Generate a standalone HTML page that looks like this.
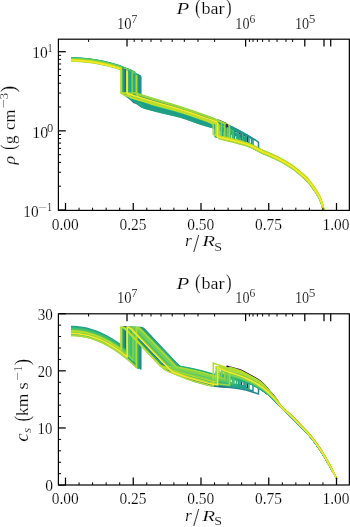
<!DOCTYPE html>
<html><head><meta charset="utf-8"><style>
html,body{margin:0;padding:0;background:#fff;width:350px;height:527px;overflow:hidden}
svg{display:block;will-change:transform}
</style></head><body>
<svg xmlns="http://www.w3.org/2000/svg" width="350" height="527" viewBox="0 0 350 527">
<defs>
<clipPath id="c1"><rect x="58.4" y="39.2" width="290.95" height="171.20"/></clipPath>
<clipPath id="c2"><rect x="58.4" y="313.8" width="290.95" height="171.20"/></clipPath>
</defs>
<g fill="none" stroke-width="1.5" stroke-linejoin="round" stroke-linecap="butt">
<path d="M71.00 59.50L77.00 59.62L80.00 59.78L84.00 60.07L87.00 60.37L91.00 60.86L95.00 61.46L98.00 61.98L104.00 63.20L111.00 64.94L118.00 67.01L124.60 69.27" stroke="#440154" clip-path="url(#c1)"/>
<path d="M71.00 59.34L77.00 59.46L80.00 59.61L84.00 59.91L87.00 60.21L91.00 60.70L95.00 61.29L98.00 61.81L104.00 63.04L111.00 64.78L118.00 66.85L124.30 68.99" stroke="#471365" clip-path="url(#c1)"/>
<path d="M71.00 59.50L77.00 59.62L80.00 59.78L84.00 60.07L87.00 60.37L91.00 60.86L95.00 61.46L98.00 61.98L104.00 63.20L111.00 64.94L118.00 67.01L124.80 69.34" stroke="#482475" clip-path="url(#c1)"/>
<path d="M71.00 59.50L77.00 59.62L80.00 59.78L84.00 60.07L87.00 60.37L91.00 60.86L95.00 61.46L98.00 61.98L105.00 63.43L112.00 65.22L119.00 67.33L125.50 69.60" stroke="#355f8d" clip-path="url(#c1)"/>
<path d="M71.00 59.66L75.00 59.72L80.00 59.94L84.00 60.24L89.00 60.77L94.00 61.46L98.00 62.14L102.00 62.93L106.00 63.83L110.00 64.84L114.00 65.95L119.00 67.50L123.00 68.86L127.00 70.33L132.00 72.32L136.00 74.03L140.80 76.23" stroke="#25848e" clip-path="url(#c1)"/>
<path d="M71.00 59.83L75.00 59.88L79.00 60.05L84.00 60.40L88.00 60.81L92.00 61.33L96.00 61.95L100.00 62.69L105.00 63.76L109.00 64.74L113.00 65.83L117.00 67.02L122.00 68.67L127.00 70.49L131.00 72.07L135.00 73.76L139.60 75.83" stroke="#21918c" clip-path="url(#c1)"/>
<path d="M71.00 59.90L75.00 59.95L79.00 60.11L84.00 60.47L88.00 60.88L92.00 61.40L96.00 62.02L100.00 62.76L105.00 63.83L109.00 64.81L113.00 65.89L117.00 67.09L122.00 68.74L126.00 70.18L130.00 71.73L134.00 73.39L138.40 75.34" stroke="#1f958b" clip-path="url(#c1)"/>
<path d="M71.00 60.00L75.00 60.05L79.00 60.21L83.00 60.48L87.00 60.87L91.00 61.36L95.00 61.95L99.00 62.66L104.00 63.70L108.00 64.65L112.00 65.71L116.00 66.88L120.00 68.16L124.00 69.55L128.00 71.04L132.00 72.65L136.00 74.36" stroke="#1f9a8a" clip-path="url(#c1)"/>
<path d="M71.00 57.85L77.00 57.97L80.00 58.13L84.00 58.42L87.00 58.72L91.00 59.21L97.00 60.15L100.00 60.71L104.00 61.55L110.00 63.02L117.00 65.04L123.00 67.04" stroke="#1e9c89" clip-path="url(#c1)"/>
<path d="M71.00 59.83L75.00 59.88L79.00 60.05L83.00 60.32L87.00 60.70L91.00 61.19L95.00 61.79L99.00 62.50L103.00 63.31L107.00 64.24L111.00 65.27L115.00 66.41L119.00 67.66L123.00 69.02L127.00 70.49L134.00 73.32" stroke="#1f9f88" clip-path="url(#c1)"/>
<path d="M71.00 59.76L77.00 59.89L80.00 60.04L84.00 60.34L87.00 60.63L91.00 61.12L95.00 61.72L98.00 62.24L104.00 63.47L111.00 65.20L117.00 66.96L124.00 69.31" stroke="#1fa188" clip-path="url(#c1)"/>
<path d="M71.00 60.00L75.00 60.05L79.00 60.21L83.00 60.48L87.00 60.87L91.00 61.36L95.00 61.95L99.00 62.66L104.00 63.70L109.00 64.90L113.00 65.99L117.00 67.19L121.00 68.49L125.00 69.91L129.00 71.43L133.00 73.06L137.50 75.03" stroke="#20a386" clip-path="url(#c1)"/>
<path d="M71.00 59.66L75.00 59.72L79.00 59.88L82.00 60.08L86.00 60.43L89.00 60.77L93.00 61.31L96.00 61.79L100.00 62.52L107.00 64.07L111.00 65.11L115.00 66.25L122.00 68.51L129.00 71.10" stroke="#22a884" clip-path="url(#c1)"/>
<path d="M71.00 59.83L75.00 59.88L79.00 60.05L82.00 60.24L86.00 60.59L90.00 61.06L94.00 61.63L98.00 62.31L101.00 62.89L105.00 63.76L109.00 64.74L116.00 66.72L123.00 69.02L127.00 70.49L130.30 71.79" stroke="#26ad81" clip-path="url(#c1)"/>
<path d="M71.00 59.66L77.00 59.79L80.00 59.94L84.00 60.24L87.00 60.54L91.00 61.02L97.00 61.96L100.00 62.52L104.00 63.37L110.00 64.84L116.00 66.55L122.20 68.58" stroke="#26ad81" clip-path="url(#c1)"/>
<path d="M71.00 58.11L75.00 58.17L79.00 58.33L82.00 58.53L86.00 58.88L90.00 59.34L94.00 59.91L98.00 60.59L101.00 61.17L105.00 62.04L109.00 63.02L116.00 65.00L120.00 66.28L124.00 67.66L128.00 69.16L131.50 70.56" stroke="#2fb47c" clip-path="url(#c1)"/>
<path d="M71.00 58.44L75.00 58.50L79.00 58.66L82.00 58.86L86.00 59.21L90.00 59.67L94.00 60.24L98.00 60.92L101.00 61.50L105.00 62.37L109.00 63.35L116.00 65.33L123.00 67.64L127.00 69.11L130.90 70.64" stroke="#1e9c89" clip-path="url(#c1)"/>
<path d="M71.00 58.25L75.00 58.30L79.00 58.46L83.00 58.74L87.00 59.12L91.00 59.61L95.00 60.20L99.00 60.91L103.00 61.73L107.00 62.65L111.00 63.69L115.00 64.83L119.00 66.08L123.00 67.44L127.00 68.91L131.00 70.49L134.50 71.96" stroke="#3bbb75" clip-path="url(#c1)"/>
<path d="M71.00 58.38L75.00 58.43L79.00 58.60L83.00 58.87L87.00 59.25L91.00 59.74L95.00 60.34L99.00 61.04L103.00 61.86L107.00 62.78L111.00 63.82L115.00 64.96L119.00 66.21L123.00 67.57L127.00 69.04L131.00 70.62L135.00 72.30" stroke="#44bf70" clip-path="url(#c1)"/>
<path d="M71.00 58.58L75.00 58.63L79.00 58.79L82.00 58.99L86.00 59.34L89.00 59.68L93.00 60.22L96.00 60.70L100.00 61.44L107.00 62.98L114.00 64.86L121.00 67.08L125.00 68.49L128.20 69.70" stroke="#1fa188" clip-path="url(#c1)"/>
<path d="M71.00 58.64L75.00 58.70L79.00 58.86L83.00 59.13L87.00 59.51L91.00 60.00L95.00 60.60L99.00 61.31L102.00 61.91L109.00 63.55L113.00 64.64L117.00 65.84L121.00 67.14L125.00 68.56L132.10 71.33" stroke="#7ad151" clip-path="url(#c1)"/>
<path d="M71.00 58.51L75.00 58.56L79.00 58.73L83.00 59.00L87.00 59.38L91.00 59.87L95.00 60.47L99.00 61.18L103.00 61.99L107.00 62.92L111.00 63.95L115.00 65.09L119.00 66.34L123.00 67.70L127.00 69.17L131.00 70.75L134.20 72.09" stroke="#4ec36b" clip-path="url(#c1)"/>
<path d="M71.00 58.77L75.00 58.83L79.00 58.99L82.00 59.19L86.00 59.54L89.00 59.88L93.00 60.42L96.00 60.90L100.00 61.63L107.00 63.18L111.00 64.21L115.00 65.36L122.00 67.62L126.00 69.06L129.70 70.49" stroke="#22a884" clip-path="url(#c1)"/>
<path d="M71.00 58.68L75.00 58.73L79.00 58.89L83.00 59.16L87.00 59.55L91.00 60.04L95.00 60.63L99.00 61.34L102.00 61.94L109.00 63.58L113.00 64.67L117.00 65.87L121.00 67.17L125.00 68.59L129.00 70.11L132.80 71.66" stroke="#5ec962" clip-path="url(#c1)"/>
<path d="M71.00 58.91L75.00 58.96L79.00 59.12L83.00 59.40L87.00 59.78L91.00 60.27L95.00 60.86L99.00 61.57L103.00 62.39L107.00 63.31L111.00 64.35L115.00 65.49L119.00 66.74L123.00 68.10L127.00 69.57L131.00 71.15L135.60 73.09" stroke="#69cd5b" clip-path="url(#c1)"/>
<path d="M71.00 58.84L75.00 58.89L79.00 59.06L83.00 59.33L87.00 59.71L91.00 60.20L95.00 60.80L99.00 61.51L102.00 62.11L106.00 63.01L110.00 64.01L114.00 65.13L118.00 66.35L122.00 67.68L126.00 69.12L130.00 70.68L133.40 72.08" stroke="#6ece58" clip-path="url(#c1)"/>
<path d="M71.00 59.01L75.00 59.06L79.00 59.22L83.00 59.49L87.00 59.88L91.00 60.37L95.00 60.96L99.00 61.67L102.00 62.27L109.00 63.91L113.00 65.00L117.00 66.20L121.00 67.50L125.00 68.92L129.00 70.44L133.00 72.07" stroke="#7ad151" clip-path="url(#c1)"/>
<path d="M71.00 59.50L74.00 59.53L78.00 59.67L82.00 59.91L85.00 60.17L88.00 60.48L92.00 61.00L95.00 61.46L99.00 62.17L106.00 63.66L113.00 65.50L120.00 67.66L124.00 69.05L127.50 70.35" stroke="#86d549" clip-path="url(#c1)"/>
<path d="M71.00 60.82L75.00 60.87L79.00 61.04L83.00 61.31L87.00 61.69L91.00 62.18L95.00 62.78L99.00 63.49L104.00 64.52L108.00 65.47L112.00 66.54L116.00 67.70L120.00 68.98L124.00 70.37L128.00 71.87L132.00 73.47L136.20 75.27" stroke="#8ed645" clip-path="url(#c1)"/>
<path d="M71.00 61.15L77.00 61.27L80.00 61.43L84.00 61.72L90.00 62.38L96.00 63.27L102.00 64.42L109.00 66.06L115.00 67.73L121.00 69.65" stroke="#9bd93c" clip-path="url(#c1)"/>
<path d="M71.00 60.66L75.00 60.71L79.00 60.87L83.00 61.14L87.00 61.53L91.00 62.02L95.00 62.61L99.00 63.32L104.00 64.36L108.00 65.31L112.00 66.37L116.00 67.54L120.00 68.82L124.00 70.21L128.00 71.70L132.00 73.31L136.70 75.33" stroke="#a8db34" clip-path="url(#c1)"/>
<path d="M71.00 60.98L77.00 61.11L80.00 61.26L84.00 61.56L90.00 62.21L96.00 63.11L99.00 63.65L103.00 64.47L109.00 65.89L115.00 67.57L121.50 69.66" stroke="#b0dd2f" clip-path="url(#c1)"/>
<path d="M71.00 59.83L77.00 59.95L80.00 60.11L84.00 60.40L90.00 61.06L96.00 61.95L99.00 62.50L103.00 63.31L109.00 64.74L115.00 66.41L121.30 68.43" stroke="#bddf26" clip-path="url(#c1)"/>
<path d="M71.00 60.00L74.00 60.03L78.00 60.16L82.00 60.41L85.00 60.66L88.00 60.98L92.00 61.49L95.00 61.95L99.00 62.66L106.00 64.16L113.00 65.99L120.00 68.16L127.00 70.66" stroke="#c2df23" clip-path="url(#c1)"/>
<path d="M71.00 60.49L74.00 60.52L78.00 60.66L82.00 60.90L85.00 61.16L88.00 61.47L92.00 61.99L95.00 62.45L99.00 63.16L106.00 64.66L113.00 66.49L120.00 68.65L124.00 70.04L127.20 71.23" stroke="#fde725" clip-path="url(#c1)"/>
<path d="M124.60 69.27L124.60 93.36L127.00 95.16L128.00 95.65L146.00 101.11L160.00 105.15L175.00 109.32L181.00 111.11L188.00 113.39L203.00 118.57L212.00 121.56L213.00 121.77L214.00 121.74L215.00 121.53L218.00 120.56L219.00 120.33L227.00 123.90" stroke="#440154" clip-path="url(#c1)"/>
<path d="M124.30 68.99L124.30 93.33L125.00 93.86L126.00 94.37L144.00 99.91L158.00 104.01L175.00 108.81L181.00 110.61L189.00 113.23L212.00 121.09L217.00 122.96L222.00 124.92L227.00 126.99L231.00 128.73L235.00 130.55L239.00 132.46L243.00 134.47L247.50 136.85" stroke="#471365" clip-path="url(#c1)"/>
<path d="M124.80 69.34L124.80 93.38L127.00 95.03L128.00 95.65L139.00 99.02L150.00 102.28L160.00 105.15L178.00 110.20L183.00 111.74L188.00 113.39L203.00 118.57L212.00 121.56L219.00 124.16L225.00 126.55L231.00 129.10L236.00 131.36L241.50 134.01" stroke="#482475" clip-path="url(#c1)"/>
<path d="M125.50 69.60L125.50 93.45L133.00 101.70L134.00 102.57L147.00 106.21L157.00 108.93L163.00 110.48L174.00 113.18L180.00 114.80L183.00 115.71L187.00 117.03L198.00 120.94L203.00 122.64L206.00 123.58L212.00 125.33L215.60 126.49" stroke="#355f8d" clip-path="url(#c1)"/>
<path d="M137.50 75.03L137.50 94.65L146.00 104.00L147.00 105.01L161.00 108.84L177.00 112.95L181.00 114.10L185.00 115.36L201.00 120.95L205.00 122.27L213.00 124.71L222.00 127.87L228.00 130.15L235.00 133.01L240.00 135.18L246.00 137.95" stroke="#20a386" clip-path="url(#c1)"/>
<path d="M150.00 99.90L173.00 106.67L182.00 109.43L194.00 113.42L212.00 119.68L221.00 123.24L226.00 125.36L230.00 127.15L234.00 129.01L238.00 130.97L242.00 133.04L246.20 135.33" stroke="#20a386" clip-path="url(#c1)"/>
<path d="M129.00 71.10L129.00 93.80L137.00 102.60L138.00 103.08L152.00 106.99L161.00 109.41L176.00 113.19L180.00 114.30L183.00 115.21L188.00 116.88L202.00 121.80L206.00 123.08L212.00 124.86L219.00 127.21L224.00 129.02L229.00 130.93L234.00 132.94L238.70 134.93" stroke="#22a884" clip-path="url(#c1)"/>
<path d="M150.00 103.47L161.00 106.57L175.00 110.35L182.00 112.42L188.00 114.39L203.00 119.59L212.00 122.50L217.00 124.29L222.30 126.30" stroke="#22a884" clip-path="url(#c1)"/>
<path d="M130.30 71.79L130.30 93.93L140.00 104.60L141.00 105.16L152.00 108.17L162.00 110.80L176.00 114.21L180.00 115.30L183.00 116.20L188.00 117.87L202.00 122.82L206.00 124.09L213.00 126.11L222.00 129.13L227.00 130.95L233.00 133.26L238.00 135.29L243.00 137.43" stroke="#26ad81" clip-path="url(#c1)"/>
<path d="M122.20 68.58L122.20 93.12L132.00 100.47L133.00 101.01L150.00 105.85L161.00 108.84L175.00 112.41L182.00 114.40L188.00 116.38L202.00 121.29L206.00 122.58L212.00 124.39L215.00 125.38L220.00 127.14L225.00 128.99" stroke="#26ad81" clip-path="url(#c1)"/>
<path d="M150.00 101.09L174.00 108.00L181.00 110.11L189.00 112.73L210.00 119.92L217.00 122.51L224.00 125.32L231.00 128.35L237.80 131.54" stroke="#26ad81" clip-path="url(#c1)"/>
<path d="M131.50 70.56L131.50 94.05L144.00 107.80L145.00 108.32L156.00 111.21L163.00 112.95L175.00 115.70L179.00 116.73L182.00 117.58L187.00 119.22L198.00 123.19L202.00 124.56L206.00 125.79L213.00 127.69L221.00 130.22L229.00 133.02L236.70 135.91" stroke="#2fb47c" clip-path="url(#c1)"/>
<path d="M150.00 102.87L161.00 106.00L175.00 109.84L183.00 112.24L189.00 114.23L203.00 119.08L212.00 122.03L219.00 124.60L225.20 127.04" stroke="#2fb47c" clip-path="url(#c1)"/>
<path d="M150.00 104.66L161.00 107.70L175.00 111.38L181.00 113.10L188.00 115.38L203.00 120.60L211.00 123.12L215.00 124.47" stroke="#32b67a" clip-path="url(#c1)"/>
<path d="M130.90 70.64L130.90 93.99L138.00 101.80L145.00 103.84L155.00 106.64L162.00 108.54L175.00 111.90L179.00 113.01L183.00 114.22L188.00 115.88L202.00 120.78L206.00 122.08L212.00 123.92L217.00 125.63L225.00 128.59L233.00 131.81" stroke="#1e9c89" clip-path="url(#c1)"/>
<path d="M134.50 71.96L134.50 94.35L141.00 101.47L159.00 106.59L176.00 111.14L183.00 113.23L189.00 115.23L202.00 119.76L211.00 122.65L215.00 124.02L224.00 127.38L232.50 130.87" stroke="#3bbb75" clip-path="url(#c1)"/>
<path d="M150.00 100.50L173.00 107.19L181.00 109.61L191.00 112.91L211.00 119.79L219.00 122.86L227.00 126.20L235.00 129.84L242.20 133.45" stroke="#3bbb75" clip-path="url(#c1)"/>
<path d="M135.00 72.30L135.00 94.40L140.00 99.90L141.00 100.85L158.00 105.74L176.00 110.63L183.00 112.73L189.00 114.73L203.00 119.59L213.00 122.85L220.00 125.41L226.00 127.77" stroke="#44bf70" clip-path="url(#c1)"/>
<path d="M128.20 69.70L128.20 93.72L134.00 100.03L154.00 105.78L162.00 107.97L175.00 111.38L182.00 113.41L188.00 115.38L203.00 120.60L211.00 123.12L214.00 124.12L221.00 126.65L228.00 129.37" stroke="#1fa188" clip-path="url(#c1)"/>
<path d="M150.00 102.28L160.00 105.15L176.00 109.61L181.00 111.11L186.00 112.72L203.00 118.57L213.00 121.92L222.00 125.34L230.50 128.88" stroke="#44bf70" clip-path="url(#c1)"/>
<path d="M132.10 71.33L132.10 94.11L135.00 97.30L136.00 98.11L154.00 103.44L176.00 109.61L181.00 111.11L185.00 112.39L203.00 118.57L211.00 121.22L215.00 122.65L220.00 124.55L225.00 126.55L230.00 128.67L234.00 130.44" stroke="#7ad151" clip-path="url(#c1)"/>
<path d="M134.20 72.09L134.20 94.32L139.00 99.60L143.00 100.83L153.00 103.74L161.00 106.00L175.00 109.84L182.00 111.92L189.00 114.23L203.00 119.08L212.00 122.03L220.00 124.98" stroke="#4ec36b" clip-path="url(#c1)"/>
<path d="M129.70 70.49L129.70 93.87L135.00 99.70L153.00 104.91L161.00 107.14L175.00 110.87L179.00 112.00L183.00 113.23L189.00 115.23L202.00 119.76L214.00 123.66L222.00 126.60L230.00 129.81" stroke="#22a884" clip-path="url(#c1)"/>
<path d="M132.80 71.66L132.80 94.18L135.00 96.54L152.00 101.68L176.00 108.59L185.00 111.40L212.00 120.62L221.00 124.09L229.00 127.46" stroke="#5ec962" clip-path="url(#c1)"/>
<path d="M150.00 104.06L161.00 107.14L175.00 110.87L182.00 112.91L188.00 114.88L203.00 120.09L212.00 122.97L218.50 125.29" stroke="#5ec962" clip-path="url(#c1)"/>
<path d="M135.60 73.09L135.60 94.46L140.00 99.30L141.00 100.23L158.00 105.16L176.00 110.12L183.00 112.24L189.00 114.23L203.00 119.08L212.00 122.03L219.00 124.60L225.00 126.96" stroke="#69cd5b" clip-path="url(#c1)"/>
<path d="M133.40 72.08L133.40 94.24L136.00 97.10L137.00 97.79L154.00 102.85L176.00 109.10L184.00 111.57L212.00 121.09L220.00 124.12L227.50 127.20" stroke="#6ece58" clip-path="url(#c1)"/>
<path d="M133.00 72.07L133.00 94.20L134.00 94.20L135.00 94.40L148.00 98.46L173.00 105.93L183.00 109.06L195.00 113.05L209.00 117.92L214.00 119.80L221.50 122.86" stroke="#7ad151" clip-path="url(#c1)"/>
<path d="M140.80 76.23L140.80 94.98L141.00 95.19L151.00 98.31L173.00 104.99L183.00 108.17L192.00 111.13L200.00 113.85L208.00 116.68L213.00 118.57L220.00 121.45L226.00 124.08L232.00 126.89L237.00 129.39L242.00 132.07L247.00 134.93L253.00 138.58L258.50 142.12" stroke="#25848e" clip-path="url(#c1)"/>
<path d="M139.60 75.83L139.60 94.86L141.00 96.40L142.00 96.86L147.00 98.40L173.00 106.14L182.00 108.94L196.00 113.60L208.00 117.76L212.00 119.21L218.00 121.58L224.00 124.09L229.00 126.31L234.00 128.66L238.00 130.64L243.00 133.28L248.00 136.09L253.00 139.06" stroke="#21918c" clip-path="url(#c1)"/>
<path d="M138.40 75.34L138.40 94.74L141.00 97.60L142.00 98.08L147.00 99.60L158.00 102.86L174.00 107.48L182.00 109.93L192.00 113.25L212.00 120.15L217.00 122.07L222.00 124.08L227.00 126.20L232.00 128.44L236.00 130.32L240.00 132.31L244.00 134.41L249.00 137.17" stroke="#1f958b" clip-path="url(#c1)"/>
<path d="M150.00 98.95L173.00 105.83L182.00 108.64L197.00 113.64L207.00 117.11L212.00 118.93L218.00 121.32L223.00 123.41L228.00 125.62L233.00 127.96L238.00 130.44L242.00 132.56L247.00 135.36L251.50 138.01" stroke="#1f958b" clip-path="url(#c1)"/>
<path d="M136.00 74.36L136.00 94.50L146.00 105.50L147.00 106.21L161.00 109.98L176.00 113.70L180.00 114.80L184.00 116.03L188.00 117.38L202.00 122.31L206.00 123.58L213.00 125.64L222.00 128.71L228.00 130.94L234.00 133.30L240.00 135.81L245.00 138.04" stroke="#1f9a8a" clip-path="url(#c1)"/>
<path d="M123.00 67.04L123.00 93.20L141.00 106.70L142.00 107.27L153.00 110.20L162.00 112.49L176.00 115.75L180.00 116.80L183.00 117.69L188.00 119.37L198.00 122.98L202.00 124.36L206.00 125.59L213.00 127.50L218.00 129.06L223.00 130.73L228.00 132.50L234.00 134.73L239.00 136.68L244.00 138.74" stroke="#1e9c89" clip-path="url(#c1)"/>
<path d="M150.00 101.69L177.00 109.39L183.00 111.24L189.00 113.23L203.00 118.06L211.00 120.74L215.00 122.20L220.00 124.12L225.00 126.15L230.00 128.29L234.30 130.22" stroke="#1e9c89" clip-path="url(#c1)"/>
<path d="M134.00 73.32L134.00 94.30L145.00 106.40L146.00 107.14L161.00 111.11L176.00 114.72L180.00 115.80L183.00 116.70L188.00 118.37L198.00 121.96L202.00 123.33L206.00 124.59L213.00 126.57L221.00 129.20L230.00 132.47L235.00 134.41L240.00 136.45" stroke="#1f9f88" clip-path="url(#c1)"/>
<path d="M124.00 69.31L124.00 93.30L141.00 106.05L142.00 106.66L154.00 109.88L162.00 111.93L175.00 114.98L181.00 116.59L187.00 118.52L198.00 122.47L202.00 123.85L206.00 125.09L213.00 127.03L218.00 128.62L223.00 130.32" stroke="#1fa188" clip-path="url(#c1)"/>
<path d="M127.50 70.35L127.50 93.65L130.00 96.40L131.00 97.22L142.00 100.53L152.00 103.45L161.00 106.00L174.00 109.56L181.00 111.61L187.00 113.55L203.00 119.08L211.00 121.69L216.50 123.66" stroke="#86d549" clip-path="url(#c1)"/>
<path d="M136.20 75.27L136.20 94.52L137.00 94.52L138.00 94.73L150.00 98.48L175.00 106.03L188.00 110.20L199.00 113.91L210.00 117.80L217.00 120.55L224.50 123.73" stroke="#8ed645" clip-path="url(#c1)"/>
<path d="M121.00 69.65L121.00 93.00L135.00 93.00L136.00 93.08L148.00 96.91L177.00 105.84L190.00 110.06L200.00 113.44L208.00 116.28L213.00 118.20L222.00 121.97L229.50 125.39" stroke="#9bd93c" clip-path="url(#c1)"/>
<path d="M136.70 75.33L136.70 94.57L141.00 99.30L142.00 99.92L158.00 104.58L175.00 109.32L182.00 111.42L188.00 113.39L203.00 118.57L211.00 121.22L219.00 124.16" stroke="#a8db34" clip-path="url(#c1)"/>
<path d="M121.50 69.66L121.50 93.05L124.00 93.08L136.00 96.85L147.00 100.20L157.00 103.14L178.00 109.19L184.00 111.07L191.00 113.41L196.00 115.15L199.00 116.46L202.00 118.01L210.00 122.57L213.20 124.31" stroke="#b0dd2f" clip-path="url(#c1)"/>
<path d="M121.30 68.43L121.30 93.03L124.00 95.06L137.00 99.04L149.00 102.58L161.00 106.00L175.00 109.84L181.00 111.61L188.00 113.89L202.00 118.74L212.00 122.03L216.00 123.48" stroke="#bddf26" clip-path="url(#c1)"/>
<path d="M127.00 70.66L127.00 93.60L130.00 96.90L131.00 97.86L142.00 101.14L152.00 104.04L161.00 106.57L175.00 110.35L181.00 112.10L188.00 114.39L203.00 119.59L212.00 122.50L217.00 124.29" stroke="#c2df23" clip-path="url(#c1)"/>
<path d="M127.20 71.23L127.20 93.62L128.00 93.70L138.00 96.85L147.00 99.60L158.00 102.86L174.00 107.48L181.00 109.61L190.00 112.57L209.00 119.09L213.00 120.53L217.60 122.30" stroke="#fde725" clip-path="url(#c1)"/>
<path d="M227.00 123.90L227.00 139.75L234.00 141.41L242.00 143.55L246.00 144.74L250.00 146.14L252.00 147.04L256.00 149.14L263.00 152.67L266.00 154.02L272.00 156.49L277.00 158.84L281.00 160.90L286.00 163.69L290.00 166.13L293.00 168.14L295.00 169.62L298.00 172.06L303.00 176.29L305.00 178.14L307.00 180.19L309.00 182.44L311.00 184.91L312.00 186.25L314.00 189.13L317.00 193.69L318.00 195.32L319.00 197.11L320.00 199.14L321.00 201.64L322.00 204.64L323.00 208.09L324.00 212.14L325.00 217.14" stroke="#440154" clip-path="url(#c1)"/>
<path d="M247.50 136.85L247.50 145.23L250.00 146.14L252.00 147.04L260.00 151.18L264.00 153.14L272.00 156.49L275.00 157.87L280.00 160.37L286.00 163.69L291.00 166.78L293.00 168.14L295.00 169.62L297.00 171.23L302.00 175.42L304.00 177.19L306.00 179.14L309.00 182.44L311.00 184.91L312.00 186.25L314.00 189.13L317.00 193.69L318.00 195.32L319.00 197.11L320.00 199.14L321.00 201.64L322.00 204.64L323.00 208.09L324.00 212.14L325.00 217.14" stroke="#471365" clip-path="url(#c1)"/>
<path d="M241.50 134.01L241.50 143.58L247.00 145.22L249.00 145.92L251.00 146.72L263.00 152.83L266.00 154.18L273.00 157.10L278.00 159.50L282.00 161.60L286.00 163.85L289.00 165.66L292.00 167.61L294.00 169.02L297.00 171.39L301.00 174.74L303.00 176.45L305.00 178.30L307.00 180.35L309.00 182.60L311.00 185.07L312.00 186.41L314.00 189.29L317.00 193.85L318.00 195.48L319.00 197.27L320.00 199.30L321.00 201.80L322.00 204.80L323.00 208.25L324.00 212.30L325.00 217.30" stroke="#482475" clip-path="url(#c1)"/>
<path d="M215.60 126.49L215.60 136.73L220.00 137.82L231.00 140.35L235.00 141.35L244.00 143.81L247.00 144.74L250.00 145.82L252.00 146.72L256.00 148.82L263.00 152.35L266.00 153.70L273.00 156.62L277.00 158.52L281.00 160.58L286.00 163.37L290.00 165.81L294.00 168.54L297.00 170.91L302.00 175.10L304.00 176.87L306.00 178.82L308.00 180.97L310.00 183.32L312.00 185.93L314.00 188.81L317.00 193.37L318.00 195.00L319.00 196.79L320.00 198.82L321.00 201.32L322.00 204.32L323.00 207.77L324.00 211.82L325.00 216.82" stroke="#355f8d" clip-path="url(#c1)"/>
<path d="M246.00 137.95L246.00 145.06L249.00 146.08L251.00 146.88L263.00 152.99L266.00 154.34L272.00 156.81L276.00 158.67L280.00 160.69L285.00 163.44L288.00 165.20L291.00 167.10L293.00 168.46L295.00 169.94L297.00 171.55L302.00 175.74L304.00 177.51L306.00 179.46L309.00 182.76L311.00 185.23L312.00 186.57L314.00 189.45L317.00 194.01L318.00 195.64L319.00 197.43L320.00 199.46L321.00 201.96L322.00 204.96L323.00 208.41L324.00 212.46L325.00 217.46" stroke="#20a386" clip-path="url(#c1)"/>
<path d="M246.20 135.33L246.20 144.48L249.00 145.44L251.00 146.24L263.00 152.35L266.00 153.70L272.00 156.17L275.00 157.55L280.00 160.05L285.00 162.80L288.00 164.56L291.00 166.46L293.00 167.82L295.00 169.30L297.00 170.91L302.00 175.10L304.00 176.87L306.00 178.82L309.00 182.12L311.00 184.59L312.00 185.93L314.00 188.81L317.00 193.37L318.00 195.00L319.00 196.79L320.00 198.82L321.00 201.32L322.00 204.32L323.00 207.77L324.00 211.82L325.00 216.82" stroke="#20a386" clip-path="url(#c1)"/>
<path d="M238.70 134.93L238.70 142.98L243.00 144.16L246.00 145.06L249.00 146.08L251.00 146.88L263.00 152.99L266.00 154.34L273.00 157.26L277.00 159.16L281.00 161.22L285.00 163.44L288.00 165.20L291.00 167.10L293.00 168.46L295.00 169.94L298.00 172.38L303.00 176.61L305.00 178.46L307.00 180.51L309.00 182.76L311.00 185.23L312.00 186.57L314.00 189.45L317.00 194.01L318.00 195.64L319.00 197.43L320.00 199.46L321.00 201.96L322.00 204.96L323.00 208.41L324.00 212.46L325.00 217.46" stroke="#22a884" clip-path="url(#c1)"/>
<path d="M222.30 126.30L222.30 138.36L232.00 140.59L241.00 142.96L244.00 143.81L247.00 144.74L249.00 145.44L251.00 146.24L263.00 152.35L266.00 153.70L272.00 156.17L276.00 158.03L280.00 160.05L285.00 162.80L290.00 165.81L294.00 168.54L297.00 170.91L303.00 175.97L305.00 177.82L307.00 179.87L309.00 182.12L311.00 184.59L313.00 187.34L316.00 191.84L318.00 195.00L319.00 196.79L320.00 198.82L321.00 201.32L322.00 204.32L323.00 207.77L324.00 211.82L325.00 216.82" stroke="#22a884" clip-path="url(#c1)"/>
<path d="M243.00 137.43L243.00 144.16L247.00 145.38L249.00 146.08L251.00 146.88L263.00 152.99L265.00 153.91L271.00 156.39L274.00 157.72L279.00 160.17L283.00 162.31L286.00 164.01L289.00 165.82L292.00 167.77L294.00 169.18L297.00 171.55L301.00 174.90L303.00 176.61L305.00 178.46L307.00 180.51L309.00 182.76L311.00 185.23L312.00 186.57L314.00 189.45L317.00 194.01L318.00 195.64L319.00 197.43L320.00 199.46L321.00 201.96L322.00 204.96L323.00 208.41L324.00 212.46L325.00 217.46" stroke="#26ad81" clip-path="url(#c1)"/>
<path d="M225.00 128.99L225.00 138.97L233.00 140.84L240.00 142.69L245.00 144.11L249.00 145.44L251.00 146.24L252.00 146.72L260.00 150.86L264.00 152.82L272.00 156.17L275.00 157.55L279.00 159.53L283.00 161.67L287.00 163.96L291.00 166.46L294.00 168.54L296.00 170.09L303.00 175.97L305.00 177.82L307.00 179.87L309.00 182.12L311.00 184.59L313.00 187.34L316.00 191.84L318.00 195.00L319.00 196.79L320.00 198.82L321.00 201.32L322.00 204.32L323.00 207.77L324.00 211.82L325.00 216.82" stroke="#26ad81" clip-path="url(#c1)"/>
<path d="M237.80 131.54L237.80 142.10L243.00 143.52L246.00 144.42L249.00 145.44L251.00 146.24L263.00 152.35L266.00 153.70L273.00 156.62L277.00 158.52L281.00 160.58L285.00 162.80L288.00 164.56L291.00 166.46L293.00 167.82L295.00 169.30L298.00 171.74L303.00 175.97L305.00 177.82L307.00 179.87L309.00 182.12L311.00 184.59L312.00 185.93L314.00 188.81L317.00 193.37L318.00 195.00L319.00 196.79L320.00 198.82L321.00 201.32L322.00 204.32L323.00 207.77L324.00 211.82L325.00 216.82" stroke="#26ad81" clip-path="url(#c1)"/>
<path d="M236.70 135.91L236.70 142.13L245.00 144.43L248.00 145.40L250.00 146.14L252.00 147.04L256.00 149.14L263.00 152.67L266.00 154.02L273.00 156.94L277.00 158.84L280.00 160.37L284.00 162.55L287.00 164.28L290.00 166.13L293.00 168.14L295.00 169.62L297.00 171.23L302.00 175.42L304.00 177.19L306.00 179.14L308.00 181.29L311.00 184.91L313.00 187.66L316.00 192.16L318.00 195.32L319.00 197.11L320.00 199.14L321.00 201.64L322.00 204.64L323.00 208.09L324.00 212.14L325.00 217.14" stroke="#2fb47c" clip-path="url(#c1)"/>
<path d="M225.20 127.04L225.20 139.02L233.00 140.84L240.00 142.69L245.00 144.11L249.00 145.44L251.00 146.24L252.00 146.72L260.00 150.86L264.00 152.82L272.00 156.17L275.00 157.55L279.00 159.53L283.00 161.67L287.00 163.96L291.00 166.46L294.00 168.54L296.00 170.09L303.00 175.97L305.00 177.82L307.00 179.87L309.00 182.12L311.00 184.59L313.00 187.34L316.00 191.84L318.00 195.00L319.00 196.79L320.00 198.82L321.00 201.32L322.00 204.32L323.00 207.77L324.00 211.82L325.00 216.82" stroke="#2fb47c" clip-path="url(#c1)"/>
<path d="M215.00 124.47L215.00 136.57L220.00 137.82L232.00 140.59L240.00 142.69L246.00 144.42L249.00 145.44L251.00 146.24L263.00 152.35L266.00 153.70L273.00 156.62L278.00 159.02L282.00 161.12L287.00 163.96L291.00 166.46L294.00 168.54L298.00 171.74L302.00 175.10L304.00 176.87L307.00 179.87L309.00 182.12L311.00 184.59L313.00 187.34L316.00 191.84L318.00 195.00L319.00 196.79L320.00 198.82L321.00 201.32L322.00 204.32L323.00 207.77L324.00 211.82L325.00 216.82" stroke="#32b67a" clip-path="url(#c1)"/>
<path d="M233.00 131.81L233.00 140.84L244.00 143.81L247.00 144.74L250.00 145.82L252.00 146.72L256.00 148.82L263.00 152.35L266.00 153.70L272.00 156.17L278.00 159.02L282.00 161.12L286.00 163.37L289.00 165.18L292.00 167.13L294.00 168.54L296.00 170.09L302.00 175.10L304.00 176.87L306.00 178.82L308.00 180.97L311.00 184.59L313.00 187.34L316.00 191.84L318.00 195.00L319.00 196.79L320.00 198.82L321.00 201.32L322.00 204.32L323.00 207.77L324.00 211.82L325.00 216.82" stroke="#1e9c89" clip-path="url(#c1)"/>
<path d="M232.50 130.87L232.50 140.72L240.00 142.69L244.00 143.81L247.00 144.74L250.00 145.82L252.00 146.72L256.00 148.82L263.00 152.35L266.00 153.70L272.00 156.17L278.00 159.02L282.00 161.12L286.00 163.37L289.00 165.18L292.00 167.13L294.00 168.54L296.00 170.09L302.00 175.10L304.00 176.87L306.00 178.82L308.00 180.97L311.00 184.59L313.00 187.34L316.00 191.84L318.00 195.00L319.00 196.79L320.00 198.82L321.00 201.32L322.00 204.32L323.00 207.77L324.00 211.82L325.00 216.82" stroke="#3bbb75" clip-path="url(#c1)"/>
<path d="M242.20 133.45L242.20 143.29L247.00 144.74L249.00 145.44L251.00 146.24L263.00 152.35L265.00 153.27L271.00 155.75L274.00 157.08L279.00 159.53L283.00 161.67L286.00 163.37L289.00 165.18L292.00 167.13L294.00 168.54L297.00 170.91L302.00 175.10L304.00 176.87L306.00 178.82L309.00 182.12L311.00 184.59L312.00 185.93L314.00 188.81L317.00 193.37L318.00 195.00L319.00 196.79L320.00 198.82L321.00 201.32L322.00 204.32L323.00 207.77L324.00 211.82L325.00 216.82" stroke="#3bbb75" clip-path="url(#c1)"/>
<path d="M226.00 127.77L226.00 138.88L233.00 140.52L241.00 142.64L245.00 143.79L249.00 145.12L251.00 145.92L252.00 146.40L260.00 150.54L264.00 152.50L272.00 155.85L275.00 157.23L279.00 159.21L283.00 161.35L287.00 163.64L291.00 166.14L294.00 168.22L296.00 169.77L303.00 175.65L305.00 177.50L307.00 179.55L309.00 181.80L311.00 184.27L313.00 187.02L316.00 191.52L318.00 194.68L319.00 196.47L320.00 198.50L321.00 201.00L322.00 204.00L323.00 207.45L324.00 211.50L325.00 216.50" stroke="#44bf70" clip-path="url(#c1)"/>
<path d="M228.00 129.37L228.00 139.33L234.00 140.77L242.00 142.91L246.00 144.10L250.00 145.50L252.00 146.40L256.00 148.50L263.00 152.03L266.00 153.38L272.00 155.85L276.00 157.71L280.00 159.73L284.00 161.91L288.00 164.24L291.00 166.14L294.00 168.22L296.00 169.77L303.00 175.65L305.00 177.50L307.00 179.55L309.00 181.80L311.00 184.27L313.00 187.02L316.00 191.52L318.00 194.68L319.00 196.47L320.00 198.50L321.00 201.00L322.00 204.00L323.00 207.45L324.00 211.50L325.00 216.50" stroke="#1fa188" clip-path="url(#c1)"/>
<path d="M230.50 128.88L230.50 140.23L235.00 141.35L243.00 143.52L247.00 144.74L250.00 145.82L252.00 146.72L256.00 148.82L263.00 152.35L266.00 153.70L272.00 156.17L277.00 158.52L281.00 160.58L285.00 162.80L289.00 165.18L292.00 167.13L294.00 168.54L296.00 170.09L302.00 175.10L304.00 176.87L306.00 178.82L308.00 180.97L311.00 184.59L313.00 187.34L316.00 191.84L318.00 195.00L319.00 196.79L320.00 198.82L321.00 201.32L322.00 204.32L323.00 207.77L324.00 211.82L325.00 216.82" stroke="#44bf70" clip-path="url(#c1)"/>
<path d="M234.00 130.44L234.00 141.09L244.00 143.81L247.00 144.74L250.00 145.82L252.00 146.72L256.00 148.82L263.00 152.35L266.00 153.70L273.00 156.62L279.00 159.53L283.00 161.67L287.00 163.96L290.00 165.81L293.00 167.82L295.00 169.30L298.00 171.74L303.00 175.97L305.00 177.82L307.00 179.87L309.00 182.12L311.00 184.59L312.00 185.93L314.00 188.81L317.00 193.37L318.00 195.00L319.00 196.79L320.00 198.82L321.00 201.32L322.00 204.32L323.00 207.77L324.00 211.82L325.00 216.82" stroke="#7ad151" clip-path="url(#c1)"/>
<path d="M220.00 124.98L220.00 137.50L232.00 140.27L241.00 142.64L244.00 143.49L247.00 144.42L249.00 145.12L251.00 145.92L263.00 152.03L266.00 153.38L272.00 155.85L276.00 157.71L280.00 159.73L285.00 162.48L290.00 165.49L294.00 168.22L297.00 170.59L303.00 175.65L305.00 177.50L307.00 179.55L309.00 181.80L311.00 184.27L313.00 187.02L316.00 191.52L318.00 194.68L319.00 196.47L320.00 198.50L321.00 201.00L322.00 204.00L323.00 207.45L324.00 211.50L325.00 216.50" stroke="#4ec36b" clip-path="url(#c1)"/>
<path d="M230.00 129.81L230.00 139.80L235.00 141.03L243.00 143.20L247.00 144.42L250.00 145.50L252.00 146.40L256.00 148.50L263.00 152.03L266.00 153.38L272.00 155.85L277.00 158.20L281.00 160.26L285.00 162.48L289.00 164.86L292.00 166.81L294.00 168.22L296.00 169.77L302.00 174.78L304.00 176.55L306.00 178.50L308.00 180.65L311.00 184.27L313.00 187.02L316.00 191.52L318.00 194.68L319.00 196.47L320.00 198.50L321.00 201.00L322.00 204.00L323.00 207.45L324.00 211.50L325.00 216.50" stroke="#22a884" clip-path="url(#c1)"/>
<path d="M229.00 127.46L229.00 139.56L235.00 141.03L243.00 143.20L247.00 144.42L250.00 145.50L252.00 146.40L256.00 148.50L263.00 152.03L266.00 153.38L272.00 155.85L277.00 158.20L281.00 160.26L285.00 162.48L289.00 164.86L292.00 166.81L294.00 168.22L296.00 169.77L302.00 174.78L304.00 176.55L306.00 178.50L308.00 180.65L311.00 184.27L313.00 187.02L316.00 191.52L318.00 194.68L319.00 196.47L320.00 198.50L321.00 201.00L322.00 204.00L323.00 207.45L324.00 211.50L325.00 216.50" stroke="#5ec962" clip-path="url(#c1)"/>
<path d="M218.50 125.29L218.50 137.46L232.00 140.59L241.00 142.96L244.00 143.81L247.00 144.74L249.00 145.44L251.00 146.24L263.00 152.35L266.00 153.70L272.00 156.17L276.00 158.03L280.00 160.05L284.00 162.23L289.00 165.18L293.00 167.82L296.00 170.09L302.00 175.10L305.00 177.82L307.00 179.87L309.00 182.12L311.00 184.59L313.00 187.34L316.00 191.84L318.00 195.00L319.00 196.79L320.00 198.82L321.00 201.32L322.00 204.32L323.00 207.77L324.00 211.82L325.00 216.82" stroke="#5ec962" clip-path="url(#c1)"/>
<path d="M225.00 126.96L225.00 138.65L233.00 140.52L240.00 142.37L245.00 143.79L249.00 145.12L251.00 145.92L252.00 146.40L260.00 150.54L264.00 152.50L272.00 155.85L275.00 157.23L279.00 159.21L283.00 161.35L287.00 163.64L291.00 166.14L294.00 168.22L296.00 169.77L303.00 175.65L305.00 177.50L307.00 179.55L309.00 181.80L311.00 184.27L313.00 187.02L316.00 191.52L318.00 194.68L319.00 196.47L320.00 198.50L321.00 201.00L322.00 204.00L323.00 207.45L324.00 211.50L325.00 216.50" stroke="#69cd5b" clip-path="url(#c1)"/>
<path d="M227.50 127.20L227.50 139.22L234.00 140.77L242.00 142.91L246.00 144.10L250.00 145.50L252.00 146.40L256.00 148.50L263.00 152.03L266.00 153.38L272.00 155.85L276.00 157.71L280.00 159.73L285.00 162.48L289.00 164.86L292.00 166.81L294.00 168.22L296.00 169.77L302.00 174.78L304.00 176.55L306.00 178.50L308.00 180.65L311.00 184.27L313.00 187.02L316.00 191.52L318.00 194.68L319.00 196.47L320.00 198.50L321.00 201.00L322.00 204.00L323.00 207.45L324.00 211.50L325.00 216.50" stroke="#6ece58" clip-path="url(#c1)"/>
<path d="M221.50 122.86L221.50 136.26L232.00 138.67L241.00 141.04L244.00 141.89L247.00 142.82L249.00 143.52L251.00 144.32L263.00 150.43L266.00 151.78L272.00 154.25L276.00 156.11L280.00 158.13L285.00 160.88L290.00 163.89L294.00 166.62L297.00 168.99L303.00 174.05L305.00 175.90L307.00 177.95L309.00 180.20L311.00 182.67L313.00 185.42L316.00 189.92L318.00 193.08L319.00 194.87L320.00 196.90L321.00 199.40L322.00 202.40L323.00 205.85L324.00 209.90L325.00 214.90" stroke="#7ad151" clip-path="url(#c1)"/>
<path d="M258.50 142.12L258.50 150.73L264.00 153.46L272.00 156.81L277.00 159.16L280.00 160.69L283.00 162.31L286.00 164.01L289.00 165.82L293.00 168.46L295.00 169.94L297.00 171.55L302.00 175.74L304.00 177.51L306.00 179.46L308.00 181.61L311.00 185.23L314.00 189.45L317.00 194.01L318.00 195.64L319.00 197.43L320.00 199.46L321.00 201.96L322.00 204.96L323.00 208.41L324.00 212.46L325.00 217.46" stroke="#25848e" clip-path="url(#c1)"/>
<path d="M253.00 139.06L253.00 147.88L256.00 149.46L263.00 152.99L266.00 154.34L272.00 156.81L277.00 159.16L282.00 161.76L285.00 163.44L288.00 165.20L291.00 167.10L293.00 168.46L296.00 170.73L303.00 176.61L305.00 178.46L307.00 180.51L310.00 183.96L311.00 185.23L313.00 187.98L316.00 192.48L318.00 195.64L319.00 197.43L320.00 199.46L321.00 201.96L322.00 204.96L323.00 208.41L324.00 212.46L325.00 217.46" stroke="#21918c" clip-path="url(#c1)"/>
<path d="M249.00 137.17L249.00 146.08L251.00 146.88L252.00 147.36L260.00 151.50L264.00 153.46L272.00 156.81L276.00 158.67L281.00 161.22L287.00 164.60L290.00 166.45L292.00 167.77L294.00 169.18L296.00 170.73L303.00 176.61L305.00 178.46L307.00 180.51L310.00 183.96L311.00 185.23L313.00 187.98L316.00 192.48L318.00 195.64L319.00 197.43L320.00 199.46L321.00 201.96L322.00 204.96L323.00 208.41L324.00 212.46L325.00 217.46" stroke="#1f958b" clip-path="url(#c1)"/>
<path d="M251.50 138.01L251.50 146.48L256.00 148.82L263.00 152.35L266.00 153.70L272.00 156.17L277.00 158.52L282.00 161.12L287.00 163.96L290.00 165.81L292.00 167.13L294.00 168.54L296.00 170.09L303.00 175.97L305.00 177.82L307.00 179.87L310.00 183.32L311.00 184.59L313.00 187.34L316.00 191.84L318.00 195.00L319.00 196.79L320.00 198.82L321.00 201.32L322.00 204.32L323.00 207.77L324.00 211.82L325.00 216.82" stroke="#1f958b" clip-path="url(#c1)"/>
<path d="M245.00 138.04L245.00 144.75L248.00 145.72L251.00 146.88L263.00 152.99L266.00 154.34L272.00 156.81L276.00 158.67L280.00 160.69L284.00 162.87L289.00 165.82L292.00 167.77L294.00 169.18L297.00 171.55L301.00 174.90L303.00 176.61L305.00 178.46L307.00 180.51L309.00 182.76L311.00 185.23L312.00 186.57L314.00 189.45L317.00 194.01L318.00 195.64L319.00 197.43L320.00 199.46L321.00 201.96L322.00 204.96L323.00 208.41L324.00 212.46L325.00 217.46" stroke="#1f9a8a" clip-path="url(#c1)"/>
<path d="M244.00 138.74L244.00 144.45L248.00 145.72L251.00 146.88L263.00 152.99L265.00 153.91L271.00 156.39L274.00 157.72L279.00 160.17L283.00 162.31L286.00 164.01L289.00 165.82L292.00 167.77L294.00 169.18L297.00 171.55L301.00 174.90L303.00 176.61L305.00 178.46L307.00 180.51L309.00 182.76L311.00 185.23L312.00 186.57L314.00 189.45L317.00 194.01L318.00 195.64L319.00 197.43L320.00 199.46L321.00 201.96L322.00 204.96L323.00 208.41L324.00 212.46L325.00 217.46" stroke="#1e9c89" clip-path="url(#c1)"/>
<path d="M234.30 130.22L234.30 141.17L244.00 143.81L247.00 144.74L250.00 145.82L252.00 146.72L256.00 148.82L263.00 152.35L266.00 153.70L273.00 156.62L279.00 159.53L283.00 161.67L287.00 163.96L290.00 165.81L293.00 167.82L295.00 169.30L298.00 171.74L303.00 175.97L305.00 177.82L307.00 179.87L309.00 182.12L311.00 184.59L312.00 185.93L314.00 188.81L317.00 193.37L318.00 195.00L319.00 196.79L320.00 198.82L321.00 201.32L322.00 204.32L323.00 207.77L324.00 211.82L325.00 216.82" stroke="#1e9c89" clip-path="url(#c1)"/>
<path d="M240.00 136.45L240.00 143.33L246.00 145.06L249.00 146.08L251.00 146.88L263.00 152.99L266.00 154.34L273.00 157.26L277.00 159.16L281.00 161.22L285.00 163.44L288.00 165.20L291.00 167.10L293.00 168.46L295.00 169.94L298.00 172.38L303.00 176.61L305.00 178.46L307.00 180.51L309.00 182.76L311.00 185.23L312.00 186.57L314.00 189.45L317.00 194.01L318.00 195.64L319.00 197.43L320.00 199.46L321.00 201.96L322.00 204.96L323.00 208.41L324.00 212.46L325.00 217.46" stroke="#1f9f88" clip-path="url(#c1)"/>
<path d="M223.00 130.32L223.00 138.84L233.00 141.16L242.00 143.55L247.00 145.06L249.00 145.76L251.00 146.56L263.00 152.67L266.00 154.02L272.00 156.49L276.00 158.35L280.00 160.37L284.00 162.55L289.00 165.50L293.00 168.14L296.00 170.41L302.00 175.42L305.00 178.14L307.00 180.19L309.00 182.44L311.00 184.91L313.00 187.66L316.00 192.16L318.00 195.32L319.00 197.11L320.00 199.14L321.00 201.64L322.00 204.64L323.00 208.09L324.00 212.14L325.00 217.14" stroke="#1fa188" clip-path="url(#c1)"/>
<path d="M216.50 123.66L216.50 136.16L232.00 139.79L240.00 141.89L246.00 143.62L249.00 144.64L251.00 145.44L263.00 151.55L266.00 152.90L272.00 155.37L276.00 157.23L280.00 159.25L284.00 161.43L289.00 164.38L293.00 167.02L296.00 169.29L302.00 174.30L305.00 177.02L307.00 179.07L309.00 181.32L311.00 183.79L313.00 186.54L316.00 191.04L318.00 194.20L319.00 195.99L320.00 198.02L321.00 200.52L322.00 203.52L323.00 206.97L324.00 211.02L325.00 216.02" stroke="#86d549" clip-path="url(#c1)"/>
<path d="M224.50 123.73L224.50 140.14L233.00 142.12L240.00 143.97L245.00 145.39L249.00 146.72L251.00 147.52L252.00 148.00L260.00 152.14L264.00 154.10L272.00 157.45L275.00 158.83L279.00 160.81L283.00 162.95L287.00 165.24L291.00 167.74L294.00 169.82L296.00 171.37L302.00 176.38L304.00 178.15L306.00 180.10L308.00 182.25L311.00 185.87L313.00 188.62L316.00 193.12L318.00 196.28L319.00 198.07L320.00 200.10L321.00 202.60L322.00 205.60L323.00 209.05L324.00 213.10L325.00 218.10" stroke="#8ed645" clip-path="url(#c1)"/>
<path d="M229.50 125.39L229.50 139.04L235.00 140.39L243.00 142.56L247.00 143.78L250.00 144.86L252.00 145.76L256.00 147.86L263.00 151.39L266.00 152.74L272.00 155.21L277.00 157.56L281.00 159.62L285.00 161.84L289.00 164.22L292.00 166.17L294.00 167.58L296.00 169.13L302.00 174.14L304.00 175.91L306.00 177.86L308.00 180.01L311.00 183.63L313.00 186.38L316.00 190.88L318.00 194.04L319.00 195.83L320.00 197.86L321.00 200.36L322.00 203.36L323.00 206.81L324.00 210.86L325.00 215.86" stroke="#9bd93c" clip-path="url(#c1)"/>
<path d="M219.00 124.16L219.00 138.70L232.00 141.71L241.00 144.08L244.00 144.93L247.00 145.86L249.00 146.56L251.00 147.36L263.00 153.47L266.00 154.82L272.00 157.29L276.00 159.15L280.00 161.17L285.00 163.92L290.00 166.93L294.00 169.66L297.00 172.03L303.00 177.09L305.00 178.94L307.00 180.99L309.00 183.24L311.00 185.71L313.00 188.46L316.00 192.96L318.00 196.12L319.00 197.91L320.00 199.94L321.00 202.44L322.00 205.44L323.00 208.89L324.00 212.94L325.00 217.94" stroke="#a8db34" clip-path="url(#c1)"/>
<path d="M213.20 124.31L213.20 134.48L219.00 135.98L230.00 138.52L235.00 139.75L244.00 142.21L247.00 143.14L250.00 144.22L252.00 145.12L256.00 147.22L263.00 150.75L266.00 152.10L273.00 155.02L277.00 156.92L280.00 158.45L285.00 161.20L289.00 163.58L293.00 166.22L296.00 168.49L302.00 173.50L304.00 175.27L306.00 177.22L308.00 179.37L310.00 181.72L312.00 184.33L314.00 187.21L317.00 191.77L318.00 193.40L319.00 195.19L320.00 197.22L321.00 199.72L322.00 202.72L323.00 206.17L324.00 210.22L325.00 215.22" stroke="#b0dd2f" clip-path="url(#c1)"/>
<path d="M216.00 123.48L216.00 135.40L220.00 136.38L232.00 139.15L240.00 141.25L246.00 142.98L249.00 144.00L251.00 144.80L263.00 150.91L266.00 152.26L272.00 154.73L276.00 156.59L280.00 158.61L284.00 160.79L289.00 163.74L293.00 166.38L296.00 168.65L301.00 172.82L304.00 175.43L306.00 177.38L308.00 179.53L310.00 181.88L311.00 183.15L313.00 185.90L316.00 190.40L318.00 193.56L319.00 195.35L320.00 197.38L321.00 199.88L322.00 202.88L323.00 206.33L324.00 210.38L325.00 215.38" stroke="#bddf26" clip-path="url(#c1)"/>
<path d="M217.00 124.29L217.00 136.61L232.00 140.11L240.00 142.21L246.00 143.94L249.00 144.96L251.00 145.76L263.00 151.87L266.00 153.22L272.00 155.69L276.00 157.55L280.00 159.57L284.00 161.75L289.00 164.70L293.00 167.34L296.00 169.61L302.00 174.62L305.00 177.34L307.00 179.39L309.00 181.64L311.00 184.11L313.00 186.86L316.00 191.36L318.00 194.52L319.00 196.31L320.00 198.34L321.00 200.84L322.00 203.84L323.00 207.29L324.00 211.34L325.00 216.34" stroke="#c2df23" clip-path="url(#c1)"/>
<path d="M217.60 122.30L217.60 136.92L232.00 140.27L240.00 142.37L246.00 144.10L249.00 145.12L251.00 145.92L263.00 152.03L266.00 153.38L272.00 155.85L276.00 157.71L280.00 159.73L285.00 162.48L290.00 165.49L294.00 168.22L297.00 170.59L303.00 175.65L305.00 177.50L307.00 179.55L309.00 181.80L311.00 184.27L313.00 187.02L316.00 191.52L318.00 194.68L319.00 196.47L320.00 198.50L321.00 201.00L322.00 204.00L323.00 207.45L324.00 211.50L325.00 216.50" stroke="#fde725" clip-path="url(#c1)"/>
<path d="M71.00 330.45L74.00 330.52L77.00 330.72L81.00 331.20L84.00 331.72L87.00 332.37L91.00 333.45L94.00 334.42L98.00 335.92L102.00 337.66L105.00 339.12L108.00 340.72L111.00 342.45L115.00 344.97L118.00 347.02L121.00 349.20L124.60 352.00L124.60 327.11L125.00 327.13L126.00 327.34L127.00 327.78L128.00 328.46L129.00 329.37L168.00 370.32L169.00 371.29L182.00 376.54L188.00 378.75L191.00 379.72L194.00 380.59L208.00 384.36L212.00 385.23L215.00 385.69L220.00 386.26L227.00 386.88L227.00 366.30L236.00 368.64L239.00 369.57L241.00 370.30L244.00 371.70L254.00 377.10L257.00 378.84L260.00 380.87L262.00 382.49L264.00 384.46L266.00 386.72L270.00 391.49L274.00 396.03L276.00 398.50L277.00 399.90L280.00 404.62L281.00 406.06L282.00 407.30L284.00 409.27L288.00 412.49L290.00 414.20L293.00 417.09L306.00 430.52L309.00 433.83L311.00 436.20L314.00 439.99L317.00 444.05L320.00 448.40L323.00 453.14L327.00 460.04L331.00 467.37L334.00 473.25L336.60 478.60" stroke="#440154" clip-path="url(#c2)"/>
<path d="M71.00 330.00L74.00 330.07L77.00 330.27L81.00 330.75L84.00 331.27L87.00 331.92L91.00 333.00L94.00 333.97L98.00 335.47L102.00 337.21L105.00 338.67L108.00 340.27L111.00 342.00L115.00 344.52L118.00 346.57L121.00 348.75L124.30 351.31L124.30 327.10L125.00 327.16L126.00 327.44L127.00 327.95L128.00 328.70L129.00 329.67L165.00 367.47L166.00 368.24L170.00 369.74L180.00 373.28L187.00 375.57L192.00 377.02L207.00 381.01L212.00 382.21L218.00 383.23L232.00 385.14L237.00 385.93L242.00 386.90L247.50 388.24L247.50 382.04L252.00 384.16L256.00 386.29L260.00 388.65L264.00 391.26L268.00 394.22L271.00 396.72L274.00 399.66L280.00 405.93L289.00 414.50L296.00 421.41L305.00 430.65L309.00 435.03L313.00 439.88L316.00 443.82L319.00 448.03L322.00 452.58L325.00 457.54L330.00 466.30L333.00 471.76L336.60 478.60" stroke="#471365" clip-path="url(#c2)"/>
<path d="M71.00 330.90L74.00 330.97L77.00 331.17L81.00 331.65L84.00 332.17L87.00 332.82L91.00 333.90L94.00 334.87L98.00 336.37L102.00 338.11L105.00 339.57L108.00 341.17L111.00 342.90L115.00 345.42L118.00 347.47L121.00 349.65L124.80 352.61L124.80 327.11L126.00 327.28L127.00 327.68L128.00 328.31L129.00 329.17L165.00 366.96L166.00 367.53L170.00 368.96L179.00 371.97L186.00 374.15L191.00 375.55L201.00 378.14L208.00 380.04L212.00 381.00L219.00 382.26L235.00 384.76L241.50 386.02L241.50 379.51L246.00 381.33L250.00 383.06L253.00 384.48L256.00 386.06L260.00 388.38L262.00 389.64L264.00 391.01L268.00 394.03L271.00 396.56L274.00 399.52L279.00 404.86L281.00 406.89L290.00 415.42L297.00 422.36L305.00 430.59L309.00 434.97L313.00 439.82L316.00 443.76L319.00 447.97L322.00 452.53L325.00 457.49L330.00 466.26L333.00 471.73L336.60 478.60" stroke="#482475" clip-path="url(#c2)"/>
<path d="M71.00 330.90L74.00 330.97L77.00 331.17L81.00 331.65L84.00 332.17L87.00 332.82L91.00 333.90L94.00 334.87L98.00 336.37L102.00 338.11L105.00 339.57L108.00 341.17L112.00 343.51L115.00 345.42L119.00 348.18L122.00 350.41L125.50 353.18L125.50 327.13L126.00 327.16L127.00 327.40L128.00 327.86L129.00 328.56L130.00 329.50L169.00 370.45L170.00 371.31L183.00 376.40L187.00 377.84L191.00 379.12L195.00 380.26L209.00 383.99L212.00 384.63L215.60 385.18L215.60 372.53L222.00 374.42L236.00 378.19L242.00 380.04L246.00 381.45L250.00 383.04L253.00 384.39L257.00 386.44L261.00 388.78L264.00 390.79L267.00 393.06L271.00 396.43L274.00 399.39L279.00 404.80L281.00 406.87L290.00 415.37L297.00 422.31L305.00 430.54L309.00 434.91L313.00 439.76L316.00 443.70L319.00 447.92L322.00 452.47L325.00 457.44L330.00 466.22L333.00 471.71L336.60 478.60" stroke="#355f8d" clip-path="url(#c2)"/>
<path d="M71.00 332.43L73.00 332.46L76.00 332.62L80.00 333.04L84.00 333.70L86.00 334.12L89.00 334.86L91.00 335.43L94.00 336.40L98.00 337.90L102.00 339.64L106.00 341.62L111.00 344.43L115.00 346.95L119.00 349.71L123.00 352.71L127.00 355.95L132.00 360.34L136.00 364.12L140.80 368.97L140.80 327.59L142.00 327.77L143.00 328.17L144.00 328.81L145.00 329.69L192.00 379.97L193.00 380.91L207.00 384.72L210.00 385.44L212.00 385.84L215.00 386.28L219.00 386.72L230.00 387.61L234.00 387.99L238.00 388.50L242.00 389.21L246.00 390.13L250.00 391.22L254.00 392.46L258.50 393.97L258.50 386.50L262.00 388.99L265.00 391.25L268.00 393.66L271.00 396.28L273.00 398.27L280.00 405.73L290.00 415.38L298.00 423.39L306.00 431.69L310.00 436.18L313.00 439.86L316.00 443.81L319.00 448.02L322.00 452.57L325.00 457.53L330.00 466.30L333.00 471.75L336.60 478.60" stroke="#25848e" clip-path="url(#c2)"/>
<path d="M71.00 331.80L73.00 331.83L76.00 331.99L80.00 332.41L84.00 333.07L88.00 333.97L90.00 334.51L93.00 335.43L97.00 336.87L101.00 338.55L105.00 340.47L109.00 342.63L114.00 345.67L118.00 348.37L122.00 351.31L127.00 355.32L131.00 358.80L135.00 362.52L139.60 367.09L139.60 327.56L140.00 327.58L141.00 327.78L142.00 328.22L143.00 328.89L144.00 329.80L190.00 377.63L191.00 378.53L207.00 382.86L211.00 383.82L214.00 384.36L218.00 384.92L232.00 386.47L238.00 387.30L241.00 387.85L245.00 388.74L249.00 389.79L253.00 390.96L253.00 384.30L258.00 387.20L261.00 389.08L263.00 390.42L267.00 393.33L269.00 394.93L271.00 396.64L273.00 398.57L280.00 405.89L289.00 414.48L296.00 421.40L304.00 429.60L308.00 433.89L311.00 437.39L315.00 442.47L318.00 446.59L321.00 451.01L324.00 455.85L328.00 462.76L332.00 469.91L336.60 478.60" stroke="#21918c" clip-path="url(#c2)"/>
<path d="M71.00 334.32L73.00 334.35L76.00 334.51L80.00 334.93L84.00 335.59L88.00 336.49L90.00 337.03L93.00 337.95L97.00 339.39L101.00 341.07L105.00 342.99L109.00 345.15L114.00 348.19L118.00 350.89L122.00 353.83L126.00 357.01L130.00 360.43L134.00 364.09L138.40 368.39L138.40 327.52L139.00 327.56L140.00 327.81L141.00 328.27L142.00 328.96L143.00 329.87L190.00 376.87L191.00 377.34L193.00 377.89L208.00 381.89L212.00 382.81L218.00 383.79L231.00 385.45L237.00 386.33L240.00 386.87L243.00 387.51L249.00 389.02L249.00 382.60L254.00 385.12L259.00 387.99L263.00 390.54L267.00 393.42L269.00 395.00L271.00 396.70L274.00 399.65L280.00 405.92L289.00 414.50L296.00 421.41L304.00 429.61L308.00 433.89L311.00 437.39L315.00 442.47L318.00 446.59L321.00 451.01L324.00 455.85L328.00 462.76L332.00 469.91L336.60 478.60" stroke="#29af7f" clip-path="url(#c2)"/>
<path d="M71.00 330.90L75.00 331.02L79.00 331.38L83.00 331.98L87.00 332.82L91.00 333.90L95.00 335.22L99.00 336.78L103.00 338.58L107.00 340.62L111.00 342.90L115.00 345.42L119.00 348.18L123.00 351.18L127.00 354.42L131.00 357.90L136.00 362.59L136.00 327.45L137.00 327.57L138.00 327.92L139.00 328.50L140.00 329.32L182.00 373.39L183.00 374.31L187.00 375.57L192.00 377.02L208.00 381.27L211.00 381.99L214.00 382.58L218.00 383.23L231.00 385.00L236.00 385.76L240.00 386.48L245.00 387.60L245.00 381.16L251.00 383.81L253.00 384.79L256.00 386.39L260.00 388.71L264.00 391.31L268.00 394.26L271.00 396.74L274.00 399.68L280.00 405.95L289.00 414.51L296.00 421.41L305.00 430.65L309.00 435.03L313.00 439.88L316.00 443.82L319.00 448.03L322.00 452.58L325.00 457.54L330.00 466.30L333.00 471.76L336.60 478.60" stroke="#1f9a8a" clip-path="url(#c2)"/>
<path d="M71.00 326.40L74.00 326.47L77.00 326.67L81.00 327.15L84.00 327.67L87.00 328.32L90.00 329.11L94.00 330.37L97.00 331.47L100.00 332.71L103.00 334.08L106.00 335.59L110.00 337.81L113.00 339.63L116.00 341.59L119.00 343.68L123.00 346.68L123.00 327.06L124.00 327.18L125.00 327.53L126.00 328.11L127.00 328.93L162.00 365.65L163.00 366.10L170.00 368.57L180.00 371.81L184.00 373.03L191.00 374.96L201.00 377.52L208.00 379.42L212.00 380.39L219.00 381.71L231.00 383.65L236.00 384.52L240.00 385.31L244.00 386.22L244.00 380.82L248.00 382.51L251.00 383.86L254.00 385.34L257.00 386.98L261.00 389.35L264.00 391.32L268.00 394.27L271.00 396.75L274.00 399.69L280.00 405.95L289.00 414.51L296.00 421.41L305.00 430.65L309.00 435.03L313.00 439.88L316.00 443.82L319.00 448.03L322.00 452.58L325.00 457.54L330.00 466.30L333.00 471.76L336.60 478.60" stroke="#1e9c89" clip-path="url(#c2)"/>
<path d="M71.00 329.10L74.00 329.17L78.00 329.47L82.00 330.01L86.00 330.79L90.00 331.81L94.00 333.07L98.00 334.57L102.00 336.31L106.00 338.29L110.00 340.51L114.00 342.97L118.00 345.67L122.00 348.61L126.00 351.79L130.00 355.21L134.00 358.87L134.00 327.39L135.00 327.51L136.00 327.86L137.00 328.44L138.00 329.26L178.00 371.23L179.00 371.97L184.00 373.56L190.00 375.28L201.00 378.14L208.00 380.04L211.00 380.78L217.00 381.93L233.00 384.42L240.00 385.70L240.00 378.52L245.00 380.51L250.00 382.67L253.00 384.09L257.00 386.23L261.00 388.63L264.00 390.67L267.00 392.97L271.00 396.36L274.00 399.34L279.00 404.77L281.00 406.84L290.00 415.35L297.00 422.30L305.00 430.54L309.00 434.91L313.00 439.76L316.00 443.70L319.00 447.92L322.00 452.47L325.00 457.44L330.00 466.22L333.00 471.70L336.60 478.60" stroke="#1f9f88" clip-path="url(#c2)"/>
<path d="M71.00 329.55L74.00 329.62L77.00 329.82L81.00 330.30L84.00 330.82L87.00 331.47L91.00 332.55L94.00 333.52L98.00 335.02L102.00 336.76L105.00 338.22L108.00 339.82L111.00 341.55L115.00 344.07L118.00 346.12L121.00 348.30L124.00 350.62L124.00 327.09L125.00 327.21L126.00 327.56L127.00 328.14L128.00 328.96L165.00 367.78L166.00 368.59L170.00 370.13L182.00 374.49L187.00 376.14L192.00 377.62L207.00 381.63L211.00 382.60L216.00 383.50L223.00 384.45L223.00 374.77L237.00 378.87L241.00 380.13L245.00 381.50L249.00 383.03L252.00 384.32L255.00 385.77L258.00 387.39L262.00 389.79L265.00 391.84L268.00 394.12L271.00 396.63L274.00 399.57L279.00 404.90L281.00 406.91L289.00 414.47L296.00 421.36L305.00 430.60L309.00 434.97L313.00 439.82L316.00 443.76L319.00 447.98L322.00 452.53L325.00 457.49L330.00 466.26L333.00 471.73L336.60 478.60" stroke="#1fa188" clip-path="url(#c2)"/>
<path d="M71.00 332.70L75.00 332.82L79.00 333.18L83.00 333.78L87.00 334.62L91.00 335.70L95.00 337.02L99.00 338.58L102.00 339.91L104.00 340.87L108.00 342.97L112.00 345.31L116.00 347.89L121.00 351.45L125.00 354.57L129.00 357.93L133.00 361.53L137.50 365.87L137.50 327.50L138.00 327.52L139.00 327.76L140.00 328.22L141.00 328.92L142.00 329.86L183.00 372.91L184.00 373.56L192.00 375.82L201.00 378.14L208.00 380.04L212.00 381.00L219.00 382.26L231.00 384.10L236.00 384.94L241.00 385.91L246.00 387.09L246.00 381.50L251.00 383.75L255.00 385.80L260.00 388.69L264.00 391.29L268.00 394.24L271.00 396.73L274.00 399.67L280.00 405.94L289.00 414.50L296.00 421.41L305.00 430.65L309.00 435.03L313.00 439.88L316.00 443.82L319.00 448.03L322.00 452.58L325.00 457.54L330.00 466.30L333.00 471.76L336.60 478.60" stroke="#20a386" clip-path="url(#c2)"/>
<path d="M71.00 330.45L74.00 330.52L78.00 330.82L82.00 331.36L86.00 332.14L90.00 333.16L93.00 334.08L97.00 335.52L100.00 336.76L104.00 338.62L108.00 340.72L111.00 342.45L115.00 344.97L119.00 347.73L122.00 349.96L126.00 353.14L129.00 355.68L129.00 327.24L130.00 327.36L131.00 327.71L132.00 328.29L133.00 329.11L174.00 372.13L175.00 372.83L184.00 376.24L190.00 378.23L194.00 379.38L207.00 382.86L210.00 383.60L213.00 384.20L219.00 385.05L233.00 386.59L238.70 387.42L238.70 379.20L245.00 381.56L250.00 383.61L253.00 385.00L257.00 387.10L261.00 389.44L264.00 391.39L268.00 394.32L271.00 396.79L274.00 399.72L280.00 405.97L289.00 414.52L296.00 421.42L305.00 430.66L309.00 435.03L313.00 439.88L316.00 443.82L319.00 448.03L322.00 452.58L325.00 457.54L330.00 466.30L333.00 471.76L336.60 478.60" stroke="#22a884" clip-path="url(#c2)"/>
<path d="M71.00 327.30L74.00 327.37L78.00 327.67L82.00 328.21L86.00 328.99L90.00 330.01L94.00 331.27L98.00 332.77L101.00 334.05L104.00 335.47L108.00 337.57L112.00 339.91L116.00 342.49L119.00 344.58L123.00 347.58L127.00 350.82L130.30 353.67L130.30 327.28L131.00 327.34L132.00 327.62L133.00 328.13L134.00 328.88L135.00 329.85L167.00 363.45L168.00 363.78L169.00 364.03L175.00 365.37L181.00 366.60L190.00 368.20L197.00 369.77L203.00 371.27L212.00 373.73L225.00 377.16L243.00 381.78L243.00 380.50L247.00 382.14L251.00 383.90L254.00 385.38L257.00 387.00L261.00 389.37L264.00 391.34L268.00 394.28L271.00 396.76L274.00 399.69L280.00 405.95L289.00 414.51L296.00 421.41L305.00 430.65L309.00 435.03L313.00 439.88L316.00 443.82L319.00 448.03L322.00 452.58L325.00 457.54L330.00 466.30L333.00 471.76L336.60 478.60" stroke="#26ad81" clip-path="url(#c2)"/>
<path d="M71.00 327.48L74.00 327.55L77.00 327.75L81.00 328.23L84.00 328.75L87.00 329.40L90.00 330.19L94.00 331.45L97.00 332.55L100.00 333.79L103.00 335.16L106.00 336.67L110.00 338.89L113.00 340.71L116.00 342.67L119.00 344.76L122.20 347.14L122.20 327.04L123.00 327.11L124.00 327.41L125.00 327.95L126.00 328.72L155.00 359.11L156.00 360.07L158.00 360.95L160.00 361.69L163.00 362.63L169.00 364.26L174.00 365.41L180.00 366.70L189.00 368.35L195.00 369.66L202.00 371.38L212.00 374.10L225.00 377.46L225.00 371.48L237.00 375.08L240.00 376.06L242.00 376.79L246.00 378.45L251.00 380.74L254.00 382.23L257.00 383.87L260.00 385.70L263.00 387.84L266.00 390.41L271.00 395.15L273.00 397.19L275.00 399.37L277.00 401.70L280.00 405.44L282.00 407.67L284.00 409.59L290.00 414.98L294.00 418.89L305.00 430.18L308.00 433.42L310.00 435.72L313.00 439.41L316.00 443.36L319.00 447.58L322.00 452.15L325.00 457.13L330.00 465.98L333.00 471.55L336.60 478.60" stroke="#26ad81" clip-path="url(#c2)"/>
<path d="M71.00 328.02L74.00 328.09L78.00 328.39L82.00 328.93L86.00 329.71L90.00 330.73L94.00 331.99L98.00 333.49L101.00 334.77L104.00 336.19L108.00 338.29L112.00 340.63L116.00 343.21L120.00 346.03L124.00 349.09L128.00 352.39L131.50 355.47L131.50 327.31L132.00 327.34L133.00 327.58L134.00 328.04L135.00 328.74L136.00 329.68L175.00 370.63L176.00 371.42L183.00 373.78L189.00 375.59L210.00 381.15L213.00 381.80L217.00 382.50L232.00 384.70L236.70 385.47L236.70 377.57L243.00 379.88L249.00 382.33L253.00 384.18L257.00 386.29L261.00 388.67L264.00 390.71L267.00 392.99L271.00 396.38L274.00 399.35L279.00 404.78L281.00 406.85L290.00 415.36L297.00 422.30L305.00 430.54L309.00 434.91L313.00 439.76L316.00 443.70L319.00 447.92L322.00 452.47L325.00 457.44L330.00 466.22L333.00 471.71L336.60 478.60" stroke="#2fb47c" clip-path="url(#c2)"/>
<path d="M71.00 328.38L74.00 328.45L78.00 328.75L82.00 329.29L86.00 330.07L90.00 331.09L94.00 332.35L98.00 333.85L101.00 335.13L104.00 336.55L108.00 338.65L112.00 340.99L116.00 343.57L119.00 345.66L123.00 348.66L127.00 351.90L130.90 355.29L130.90 327.30L132.00 327.44L133.00 327.81L134.00 328.42L135.00 329.26L173.00 369.13L181.00 371.62L185.00 372.77L211.00 379.56L214.00 380.20L218.00 380.97L233.00 383.56L233.00 374.46L240.00 376.85L245.00 378.82L252.00 382.01L255.00 383.54L257.00 384.65L260.00 386.46L263.00 388.54L266.00 390.99L271.00 395.55L273.00 397.56L275.00 399.71L280.00 405.57L282.00 407.72L284.00 409.63L290.00 415.10L295.00 420.03L305.00 430.30L308.00 433.54L310.00 435.84L313.00 439.52L316.00 443.47L319.00 447.70L322.00 452.26L325.00 457.23L330.00 466.06L333.00 471.60L336.60 478.60" stroke="#37b878" clip-path="url(#c2)"/>
<path d="M71.00 328.65L75.00 328.77L79.00 329.13L83.00 329.73L87.00 330.57L91.00 331.65L95.00 332.97L99.00 334.53L103.00 336.33L107.00 338.37L111.00 340.65L115.00 343.17L119.00 345.93L123.00 348.93L127.00 352.17L131.00 355.65L134.50 358.89L134.50 327.40L135.00 327.43L136.00 327.67L137.00 328.13L138.00 328.83L139.00 329.77L178.00 370.72L179.00 371.49L184.00 373.03L189.00 374.42L211.00 380.17L214.00 380.80L218.00 381.54L232.50 383.91L232.50 375.40L241.00 378.29L246.00 380.24L252.00 382.89L255.00 384.40L257.00 385.50L261.00 387.91L264.00 390.03L267.00 392.45L271.00 395.97L273.00 397.95L275.00 400.07L281.00 406.77L284.00 409.69L290.00 415.23L295.00 420.16L305.00 430.42L308.00 433.66L310.00 435.96L313.00 439.64L316.00 443.59L319.00 447.81L322.00 452.37L325.00 457.33L330.00 466.14L333.00 471.65L336.60 478.60" stroke="#3bbb75" clip-path="url(#c2)"/>
<path d="M71.00 329.10L75.00 329.22L79.00 329.58L83.00 330.18L87.00 331.02L91.00 332.10L95.00 333.42L99.00 334.98L103.00 336.78L107.00 338.82L111.00 341.10L115.00 343.62L119.00 346.38L123.00 349.38L127.00 352.62L131.00 356.10L135.00 359.82L135.00 327.42L136.00 327.54L137.00 327.89L138.00 328.47L139.00 329.29L178.00 370.21L181.00 371.12L185.00 372.22L201.00 376.29L211.00 378.95L217.00 380.21L226.00 381.86L226.00 372.79L237.00 376.12L240.00 377.09L243.00 378.19L247.00 379.83L251.00 381.62L254.00 383.09L257.00 384.71L260.00 386.51L263.00 388.58L266.00 391.02L271.00 395.57L273.00 397.58L275.00 399.72L280.00 405.57L282.00 407.73L284.00 409.64L290.00 415.11L295.00 420.03L305.00 430.30L308.00 433.54L310.00 435.84L313.00 439.52L316.00 443.47L319.00 447.70L322.00 452.26L325.00 457.23L330.00 466.06L333.00 471.60L336.60 478.60" stroke="#44bf70" clip-path="url(#c2)"/>
<path d="M71.00 329.10L74.00 329.17L78.00 329.47L82.00 330.01L86.00 330.79L90.00 331.81L93.00 332.73L97.00 334.17L100.00 335.41L103.00 336.78L107.00 338.82L111.00 341.10L114.00 342.97L118.00 345.67L121.00 347.85L125.00 350.97L128.20 353.64L128.20 327.22L129.00 327.29L130.00 327.59L131.00 328.13L132.00 328.90L133.00 329.89L169.00 367.69L170.00 368.18L180.00 371.32L184.00 372.49L191.00 374.36L201.00 376.91L210.00 379.32L213.00 380.00L217.00 380.79L228.00 382.69L228.00 371.13L237.00 373.91L240.00 374.92L242.00 375.68L245.00 376.97L250.00 379.34L253.00 380.82L256.00 382.43L259.00 384.22L262.00 386.30L264.00 387.94L267.00 390.75L272.00 395.74L275.00 399.00L277.00 401.40L280.00 405.30L282.00 407.60L284.00 409.53L290.00 414.84L294.00 418.76L305.00 430.06L308.00 433.30L310.00 435.60L313.00 439.29L316.00 443.24L319.00 447.47L322.00 452.05L326.00 458.76L330.00 465.90L333.00 471.50L336.60 478.60" stroke="#44bf70" clip-path="url(#c2)"/>
<path d="M71.00 329.37L74.00 329.44L78.00 329.74L82.00 330.28L86.00 331.06L90.00 332.08L94.00 333.34L98.00 334.84L102.00 336.58L106.00 338.56L109.00 340.20L113.00 342.60L117.00 345.24L121.00 348.12L125.00 351.24L129.00 354.60L132.10 357.37L132.10 327.33L133.00 327.43L134.00 327.75L135.00 328.31L136.00 329.11L137.00 330.12L174.00 368.97L179.00 370.53L184.00 371.95L201.00 376.29L211.00 378.95L218.00 380.41L234.00 383.31L234.00 374.71L240.00 376.80L245.00 378.79L251.00 381.51L254.00 382.99L256.00 384.07L260.00 386.45L263.00 388.54L266.00 390.99L271.00 395.55L273.00 397.56L275.00 399.71L280.00 405.56L282.00 407.72L284.00 409.63L290.00 415.10L295.00 420.03L305.00 430.30L308.00 433.54L310.00 435.84L313.00 439.52L316.00 443.47L319.00 447.70L322.00 452.26L325.00 457.23L330.00 466.06L333.00 471.60L336.60 478.60" stroke="#48c16e" clip-path="url(#c2)"/>
<path d="M71.00 329.82L75.00 329.94L79.00 330.30L83.00 330.90L87.00 331.74L91.00 332.82L95.00 334.14L99.00 335.70L103.00 337.50L107.00 339.54L111.00 341.82L115.00 344.34L119.00 347.10L123.00 350.10L127.00 353.34L131.00 356.82L134.20 359.78L134.20 327.40L135.00 327.47L136.00 327.77L137.00 328.31L138.00 329.08L139.00 330.07L175.00 367.87L176.00 368.72L182.00 370.38L200.00 374.81L211.00 377.73L215.00 378.64L220.00 379.69L220.00 373.01L225.00 374.50L236.00 377.58L240.00 378.80L243.00 379.82L247.00 381.33L251.00 383.01L254.00 384.42L257.00 386.00L261.00 388.37L264.00 390.43L267.00 392.77L271.00 396.21L274.00 399.20L281.00 406.83L283.00 408.79L290.00 415.30L295.00 420.23L305.00 430.48L309.00 434.85L313.00 439.70L316.00 443.65L319.00 447.86L322.00 452.42L325.00 457.39L330.00 466.18L333.00 471.68L336.60 478.60" stroke="#4ec36b" clip-path="url(#c2)"/>
<path d="M71.00 330.00L74.00 330.07L78.00 330.37L82.00 330.91L86.00 331.69L90.00 332.71L93.00 333.63L97.00 335.07L100.00 336.31L104.00 338.17L108.00 340.27L111.00 342.00L115.00 344.52L119.00 347.28L122.00 349.51L126.00 352.69L129.70 355.84L129.70 327.26L131.00 327.46L132.00 327.88L133.00 328.53L134.00 329.42L170.00 367.21L171.00 367.70L183.00 371.16L200.00 375.42L211.00 378.34L218.00 379.84L230.00 382.12L230.00 372.67L238.00 375.22L241.00 376.28L243.00 377.07L246.00 378.36L251.00 380.69L254.00 382.18L256.00 383.26L258.00 384.42L260.00 385.67L263.00 387.82L266.00 390.39L270.00 394.16L273.00 397.18L275.00 399.36L277.00 401.70L280.00 405.43L282.00 407.66L284.00 409.58L290.00 414.97L294.00 418.89L305.00 430.18L308.00 433.42L310.00 435.72L313.00 439.41L316.00 443.36L319.00 447.58L322.00 452.15L325.00 457.13L330.00 465.98L333.00 471.55L336.60 478.60" stroke="#58c765" clip-path="url(#c2)"/>
<path d="M71.00 330.45L74.00 330.52L78.00 330.82L82.00 331.36L86.00 332.14L90.00 333.16L94.00 334.42L98.00 335.92L102.00 337.66L106.00 339.64L109.00 341.28L113.00 343.68L117.00 346.32L121.00 349.20L125.00 352.32L129.00 355.68L132.80 359.09L132.80 327.35L134.00 327.52L135.00 327.92L136.00 328.55L137.00 329.41L173.00 367.20L174.00 367.73L182.00 369.86L192.00 372.22L200.00 374.19L212.00 377.36L219.00 378.93L229.00 381.00L229.00 372.96L238.00 375.80L241.00 376.84L243.00 377.61L247.00 379.31L251.00 381.14L254.00 382.63L256.00 383.70L260.00 386.08L263.00 388.20L266.00 390.70L271.00 395.35L273.00 397.38L275.00 399.54L277.00 401.85L280.00 405.50L282.00 407.69L284.00 409.61L289.00 414.10L294.00 418.96L305.00 430.24L308.00 433.48L310.00 435.78L313.00 439.47L316.00 443.41L319.00 447.64L322.00 452.21L325.00 457.18L330.00 466.02L333.00 471.58L336.60 478.60" stroke="#5ec962" clip-path="url(#c2)"/>
<path d="M71.00 330.90L75.00 331.02L79.00 331.38L83.00 331.98L87.00 332.82L91.00 333.90L95.00 335.22L99.00 336.78L103.00 338.58L107.00 340.62L111.00 342.90L115.00 345.42L119.00 348.18L123.00 351.18L127.00 354.42L131.00 357.90L135.60 362.20L135.60 327.44L136.00 327.46L137.00 327.67L138.00 328.11L139.00 328.79L140.00 329.70L177.00 368.55L182.00 369.86L192.00 372.22L200.00 374.19L212.00 377.36L218.00 378.71L225.00 380.18L225.00 370.40L237.00 374.01L240.00 375.00L242.00 375.75L245.00 377.03L250.00 379.38L253.00 380.85L256.00 382.45L259.00 384.24L262.00 386.31L264.00 387.95L267.00 390.76L272.00 395.75L275.00 399.01L277.00 401.40L280.00 405.30L282.00 407.60L284.00 409.53L290.00 414.85L294.00 418.76L305.00 430.06L308.00 433.30L310.00 435.60L313.00 439.29L316.00 443.24L319.00 447.47L322.00 452.05L326.00 458.76L330.00 465.90L333.00 471.50L336.60 478.60" stroke="#69cd5b" clip-path="url(#c2)"/>
<path d="M71.00 330.90L74.00 330.97L78.00 331.27L82.00 331.81L86.00 332.59L90.00 333.61L94.00 334.87L98.00 336.37L102.00 338.11L106.00 340.09L110.00 342.31L114.00 344.77L118.00 347.47L122.00 350.41L126.00 353.59L130.00 357.01L133.40 360.10L133.40 327.37L134.00 327.41L135.00 327.67L136.00 328.16L137.00 328.88L138.00 329.84L173.00 366.59L181.00 368.61L190.00 370.56L197.00 372.22L202.00 373.47L213.00 376.40L227.50 379.73L227.50 369.94L237.00 372.86L240.00 373.88L242.00 374.66L244.00 375.53L247.00 376.96L252.00 379.44L255.00 381.02L258.00 382.77L261.00 384.77L263.00 386.35L266.00 389.16L272.00 395.34L275.00 398.65L277.00 401.10L280.00 405.16L281.00 406.41L282.00 407.54L284.00 409.48L289.00 413.80L293.00 417.63L305.00 429.94L308.00 433.18L310.00 435.48L313.00 439.17L316.00 443.12L319.00 447.36L322.00 451.94L326.00 458.66L330.00 465.82L333.00 471.45L336.60 478.60" stroke="#6ece58" clip-path="url(#c2)"/>
<path d="M71.00 331.35L74.00 331.42L78.00 331.72L82.00 332.26L86.00 333.04L90.00 334.06L94.00 335.32L98.00 336.82L102.00 338.56L106.00 340.54L110.00 342.76L114.00 345.22L118.00 347.92L122.00 350.86L126.00 354.04L129.00 356.58L133.00 360.18L133.00 327.36L134.00 327.48L135.00 327.83L136.00 328.41L137.00 329.23L173.00 367.00L181.00 369.11L191.00 371.38L199.00 373.32L212.00 376.76L221.50 378.92L221.50 370.10L227.00 371.79L236.00 374.34L241.00 375.96L244.00 377.14L248.00 378.92L253.00 381.31L256.00 382.89L258.00 384.05L260.00 385.31L262.00 386.71L263.00 387.48L266.00 390.11L270.00 393.96L273.00 397.00L275.00 399.19L277.00 401.56L280.00 405.37L282.00 407.64L284.00 409.56L290.00 414.91L294.00 418.83L305.00 430.12L308.00 433.36L310.00 435.66L313.00 439.35L316.00 443.30L319.00 447.53L322.00 452.10L325.00 457.08L330.00 465.94L333.00 471.53L336.60 478.60" stroke="#7ad151" clip-path="url(#c2)"/>
<path d="M71.00 331.98L74.00 332.05L78.00 332.35L81.00 332.73L85.00 333.45L89.00 334.41L92.00 335.29L95.00 336.30L99.00 337.86L102.00 339.19L106.00 341.17L109.00 342.81L113.00 345.21L116.00 347.17L120.00 349.99L124.00 353.05L127.50 355.92L127.50 327.19L128.00 327.22L129.00 327.46L130.00 327.92L131.00 328.62L132.00 329.56L166.00 365.26L167.00 365.71L172.00 367.18L181.00 369.61L197.00 373.44L202.00 374.71L211.00 377.12L216.50 378.39L216.50 371.10L223.00 373.04L236.00 376.58L239.00 377.48L242.00 378.47L246.00 379.99L250.00 381.69L254.00 383.57L257.00 385.17L261.00 387.59L264.00 389.73L267.00 392.20L271.00 395.79L273.00 397.78L275.00 399.91L281.00 406.74L284.00 409.67L290.00 415.17L295.00 420.10L305.00 430.36L308.00 433.60L310.00 435.90L313.00 439.58L316.00 443.53L319.00 447.75L322.00 452.31L325.00 457.28L330.00 466.10L333.00 471.63L336.60 478.60" stroke="#86d549" clip-path="url(#c2)"/>
<path d="M71.00 335.40L75.00 335.52L79.00 335.88L83.00 336.48L87.00 337.32L91.00 338.40L95.00 339.72L99.00 341.28L102.00 342.61L104.00 343.57L108.00 345.67L112.00 348.01L116.00 350.59L120.00 353.41L124.00 356.47L128.00 359.77L132.00 363.31L136.20 367.28L136.20 327.46L137.00 327.53L138.00 327.83L139.00 328.37L140.00 329.14L141.00 330.13L176.00 366.88L177.00 367.26L181.00 368.21L190.00 370.09L196.00 371.48L202.00 372.98L212.00 375.67L224.50 378.65L224.50 368.13L228.00 369.25L237.00 371.89L241.00 373.27L243.00 374.12L245.00 375.06L254.00 379.64L257.00 381.33L260.00 383.27L262.00 384.77L263.00 385.62L265.00 387.53L272.00 394.95L275.00 398.30L277.00 400.80L280.00 405.02L281.00 406.33L282.00 407.48L284.00 409.42L289.00 413.67L293.00 417.49L305.00 429.82L308.00 433.06L310.00 435.36L314.00 440.34L317.00 444.39L320.00 448.73L323.00 453.46L327.00 460.33L331.00 467.59L334.00 473.36L336.60 478.60" stroke="#8ed645" clip-path="url(#c2)"/>
<path d="M71.00 332.52L74.00 332.59L77.00 332.79L80.00 333.13L83.00 333.60L86.00 334.21L90.00 335.23L93.00 336.15L96.00 337.21L99.00 338.40L102.00 339.73L105.00 341.19L108.00 342.79L111.00 344.52L115.00 347.04L118.00 349.09L121.00 351.27L121.00 327.00L122.00 327.12L123.00 327.47L124.00 328.05L125.00 328.87L161.00 366.64L162.00 367.07L170.00 370.13L182.00 374.49L188.00 376.45L194.00 378.16L208.00 381.89L212.00 382.81L215.00 383.34L219.00 383.93L229.50 385.26L229.50 367.22L237.00 369.57L241.00 371.04L244.00 372.47L254.00 377.86L257.00 379.61L260.00 381.62L262.00 383.20L264.00 385.12L266.00 387.30L275.00 397.57L277.00 400.18L280.00 404.74L281.00 406.14L282.00 407.35L284.00 409.31L288.00 412.59L290.00 414.32L293.00 417.22L306.00 430.64L309.00 433.95L311.00 436.32L314.00 440.10L317.00 444.16L320.00 448.51L323.00 453.24L327.00 460.13L331.00 467.44L334.00 473.29L336.60 478.60" stroke="#9bd93c" clip-path="url(#c2)"/>
<path d="M71.00 335.40L75.00 335.52L79.00 335.88L83.00 336.48L87.00 337.32L91.00 338.40L95.00 339.72L99.00 341.28L102.00 342.61L104.00 343.57L108.00 345.67L112.00 348.01L116.00 350.59L120.00 353.41L124.00 356.47L128.00 359.77L132.00 363.31L136.70 367.77L136.70 327.47L138.00 327.67L139.00 328.09L140.00 328.74L141.00 329.63L176.00 366.37L177.00 366.89L182.00 368.02L190.00 369.62L195.00 370.76L201.00 372.23L212.00 375.19L219.00 376.92L219.00 366.24L226.00 368.42L236.00 371.19L240.00 372.47L242.00 373.25L245.00 374.63L254.00 379.24L257.00 380.94L260.00 382.88L262.00 384.40L263.00 385.26L265.00 387.21L273.00 395.84L275.00 398.12L277.00 400.65L280.00 404.96L281.00 406.28L282.00 407.45L284.00 409.40L288.00 412.76L290.00 414.52L294.00 418.43L306.00 430.82L309.00 434.13L311.00 436.50L314.00 440.28L317.00 444.33L320.00 448.67L323.00 453.40L327.00 460.28L331.00 467.55L334.00 473.34L336.60 478.60" stroke="#a8db34" clip-path="url(#c2)"/>
<path d="M71.00 331.98L74.00 332.05L77.00 332.25L80.00 332.59L83.00 333.06L86.00 333.67L90.00 334.69L93.00 335.61L96.00 336.67L99.00 337.86L102.00 339.19L106.00 341.17L109.00 342.81L112.00 344.59L115.00 346.50L118.00 348.55L121.50 351.11L121.50 327.01L122.00 327.04L123.00 327.28L124.00 327.74L125.00 328.44L126.00 329.38L164.00 369.28L165.00 369.94L170.00 372.09L182.00 377.05L187.00 378.97L190.00 380.00L193.00 380.91L208.00 384.97L211.00 385.65L213.20 386.03L213.20 363.00L217.00 364.41L222.00 366.08L227.00 367.62L236.00 370.11L239.00 371.06L241.00 371.78L243.00 372.66L245.00 373.64L255.00 378.92L258.00 380.71L260.00 382.07L262.00 383.63L264.00 385.50L266.00 387.64L275.00 397.76L277.00 400.35L280.00 404.82L281.00 406.19L282.00 407.39L284.00 409.34L288.00 412.65L290.00 414.39L293.00 417.29L306.00 430.70L309.00 434.01L311.00 436.38L314.00 440.16L317.00 444.22L320.00 448.56L323.00 453.30L327.00 460.18L331.00 467.48L334.00 473.31L336.60 478.60" stroke="#b0dd2f" clip-path="url(#c2)"/>
<path d="M71.00 330.90L74.00 330.97L77.00 331.17L80.00 331.51L83.00 331.98L86.00 332.59L90.00 333.61L93.00 334.53L96.00 335.59L99.00 336.78L102.00 338.11L106.00 340.09L109.00 341.73L112.00 343.51L115.00 345.42L118.00 347.47L121.30 349.88L121.30 327.01L122.00 327.07L123.00 327.35L124.00 327.86L125.00 328.61L126.00 329.58L160.00 365.28L161.00 365.74L171.00 369.30L181.00 372.63L186.00 374.15L192.00 375.82L201.00 378.14L209.00 380.29L212.00 381.00L216.00 381.76L216.00 366.59L223.00 368.75L227.00 369.89L235.00 372.03L240.00 373.57L242.00 374.32L245.00 375.65L252.00 379.08L255.00 380.65L258.00 382.40L261.00 384.41L263.00 386.01L265.00 387.88L272.00 395.16L275.00 398.48L277.00 400.95L280.00 405.10L281.00 406.38L282.00 407.51L284.00 409.45L289.00 413.74L293.00 417.56L305.00 429.88L308.00 433.12L310.00 435.42L314.00 440.40L317.00 444.45L320.00 448.78L323.00 453.51L327.00 460.37L331.00 467.62L334.00 473.38L336.60 478.60" stroke="#bddf26" clip-path="url(#c2)"/>
<path d="M71.00 332.70L74.00 332.77L78.00 333.07L81.00 333.45L85.00 334.17L89.00 335.13L92.00 336.01L95.00 337.02L99.00 338.58L102.00 339.91L106.00 341.89L109.00 343.53L113.00 345.93L116.00 347.89L120.00 350.71L123.00 352.98L127.00 356.22L127.00 327.18L128.00 327.30L129.00 327.65L130.00 328.23L131.00 329.05L167.00 366.82L168.00 367.51L180.00 371.32L186.00 373.04L201.00 376.91L210.00 379.32L213.00 380.00L217.00 380.79L217.00 367.93L225.00 370.35L236.00 373.36L239.00 374.28L241.00 374.97L243.00 375.75L246.00 377.08L252.00 379.96L255.00 381.51L258.00 383.23L261.00 385.20L263.00 386.75L266.00 389.50L272.00 395.56L275.00 398.84L277.00 401.26L280.00 405.23L282.00 407.58L284.00 409.51L290.00 414.78L294.00 418.69L305.00 430.00L308.00 433.24L310.00 435.54L313.00 439.23L316.00 443.18L319.00 447.42L322.00 451.99L326.00 458.71L330.00 465.86L333.00 471.48L336.60 478.60" stroke="#7ad151" clip-path="url(#c2)"/>
<path d="M71.00 333.42L74.00 333.49L78.00 333.79L81.00 334.17L85.00 334.89L89.00 335.85L92.00 336.73L95.00 337.74L99.00 339.30L102.00 340.63L106.00 342.61L109.00 344.25L113.00 346.65L116.00 348.61L120.00 351.43L124.00 354.49L127.20 357.11L127.20 327.19L128.00 327.26L129.00 327.56L130.00 328.10L131.00 328.87L132.00 329.86L171.00 370.81L172.00 371.68L184.00 376.24L188.00 377.60L192.00 378.82L209.00 383.37L213.00 384.20L217.60 384.87L217.60 367.50L221.00 369.10L226.00 371.12L230.00 372.52L238.00 375.15L242.00 376.61L245.00 377.88L248.00 379.24L252.00 381.15L255.00 382.70L259.00 385.02L261.00 386.33L263.00 387.81L266.00 390.38L270.00 394.16L273.00 397.18L275.00 399.36L277.00 401.69L280.00 405.43L282.00 407.66L284.00 409.58L290.00 414.97L294.00 418.89L305.00 430.18L308.00 433.42L310.00 435.72L313.00 439.41L316.00 443.36L319.00 447.58L322.00 452.15L325.00 457.13L330.00 465.98L333.00 471.55L336.60 478.60" stroke="#fde725" clip-path="url(#c2)"/>
</g>
<g stroke="#000" stroke-linecap="butt">
<line x1="65.50" y1="210.4" x2="65.50" y2="203.0" stroke-width="1.25"/>
<line x1="79.05" y1="210.4" x2="79.05" y2="207.70000000000002" stroke-width="1.0"/>
<line x1="92.60" y1="210.4" x2="92.60" y2="207.70000000000002" stroke-width="1.0"/>
<line x1="106.15" y1="210.4" x2="106.15" y2="207.70000000000002" stroke-width="1.0"/>
<line x1="119.70" y1="210.4" x2="119.70" y2="207.70000000000002" stroke-width="1.0"/>
<line x1="133.25" y1="210.4" x2="133.25" y2="203.0" stroke-width="1.25"/>
<line x1="146.80" y1="210.4" x2="146.80" y2="207.70000000000002" stroke-width="1.0"/>
<line x1="160.35" y1="210.4" x2="160.35" y2="207.70000000000002" stroke-width="1.0"/>
<line x1="173.90" y1="210.4" x2="173.90" y2="207.70000000000002" stroke-width="1.0"/>
<line x1="187.45" y1="210.4" x2="187.45" y2="207.70000000000002" stroke-width="1.0"/>
<line x1="201.00" y1="210.4" x2="201.00" y2="203.0" stroke-width="1.25"/>
<line x1="214.55" y1="210.4" x2="214.55" y2="207.70000000000002" stroke-width="1.0"/>
<line x1="228.10" y1="210.4" x2="228.10" y2="207.70000000000002" stroke-width="1.0"/>
<line x1="241.65" y1="210.4" x2="241.65" y2="207.70000000000002" stroke-width="1.0"/>
<line x1="255.20" y1="210.4" x2="255.20" y2="207.70000000000002" stroke-width="1.0"/>
<line x1="268.75" y1="210.4" x2="268.75" y2="203.0" stroke-width="1.25"/>
<line x1="282.30" y1="210.4" x2="282.30" y2="207.70000000000002" stroke-width="1.0"/>
<line x1="295.85" y1="210.4" x2="295.85" y2="207.70000000000002" stroke-width="1.0"/>
<line x1="309.40" y1="210.4" x2="309.40" y2="207.70000000000002" stroke-width="1.0"/>
<line x1="322.95" y1="210.4" x2="322.95" y2="207.70000000000002" stroke-width="1.0"/>
<line x1="336.50" y1="210.4" x2="336.50" y2="203.0" stroke-width="1.25"/>
<line x1="58.4" y1="51.70" x2="65.8" y2="51.70" stroke-width="1.25"/>
<line x1="58.4" y1="130.85" x2="65.8" y2="130.85" stroke-width="1.25"/>
<line x1="58.4" y1="210.00" x2="65.8" y2="210.00" stroke-width="1.25"/>
<line x1="58.4" y1="186.17" x2="61.1" y2="186.17" stroke-width="1.0"/>
<line x1="58.4" y1="172.24" x2="61.1" y2="172.24" stroke-width="1.0"/>
<line x1="58.4" y1="162.35" x2="61.1" y2="162.35" stroke-width="1.0"/>
<line x1="58.4" y1="154.68" x2="61.1" y2="154.68" stroke-width="1.0"/>
<line x1="58.4" y1="148.41" x2="61.1" y2="148.41" stroke-width="1.0"/>
<line x1="58.4" y1="143.11" x2="61.1" y2="143.11" stroke-width="1.0"/>
<line x1="58.4" y1="138.52" x2="61.1" y2="138.52" stroke-width="1.0"/>
<line x1="58.4" y1="134.47" x2="61.1" y2="134.47" stroke-width="1.0"/>
<line x1="58.4" y1="107.02" x2="61.1" y2="107.02" stroke-width="1.0"/>
<line x1="58.4" y1="93.09" x2="61.1" y2="93.09" stroke-width="1.0"/>
<line x1="58.4" y1="83.20" x2="61.1" y2="83.20" stroke-width="1.0"/>
<line x1="58.4" y1="75.53" x2="61.1" y2="75.53" stroke-width="1.0"/>
<line x1="58.4" y1="69.26" x2="61.1" y2="69.26" stroke-width="1.0"/>
<line x1="58.4" y1="63.96" x2="61.1" y2="63.96" stroke-width="1.0"/>
<line x1="58.4" y1="59.37" x2="61.1" y2="59.37" stroke-width="1.0"/>
<line x1="58.4" y1="55.32" x2="61.1" y2="55.32" stroke-width="1.0"/>
<line x1="127.0" y1="39.2" x2="127.0" y2="46.6" stroke-width="1.25"/>
<line x1="245.6" y1="39.2" x2="245.6" y2="46.6" stroke-width="1.25"/>
<line x1="304.8" y1="39.2" x2="304.8" y2="46.6" stroke-width="1.25"/>
<line x1="324.0" y1="39.2" x2="324.0" y2="46.6" stroke-width="1.25"/>
<line x1="330.7" y1="39.2" x2="330.7" y2="46.6" stroke-width="1.25"/>
<line x1="88.6" y1="39.2" x2="88.6" y2="41.900000000000006" stroke-width="1.0"/>
<line x1="134.2" y1="39.2" x2="134.2" y2="41.900000000000006" stroke-width="1.0"/>
<line x1="142.0" y1="39.2" x2="142.0" y2="41.900000000000006" stroke-width="1.0"/>
<line x1="151.0" y1="39.2" x2="151.0" y2="41.900000000000006" stroke-width="1.0"/>
<line x1="161.0" y1="39.2" x2="161.0" y2="41.900000000000006" stroke-width="1.0"/>
<line x1="172.2" y1="39.2" x2="172.2" y2="41.900000000000006" stroke-width="1.0"/>
<line x1="184.3" y1="39.2" x2="184.3" y2="41.900000000000006" stroke-width="1.0"/>
<line x1="198.0" y1="39.2" x2="198.0" y2="41.900000000000006" stroke-width="1.0"/>
<line x1="214.6" y1="39.2" x2="214.6" y2="41.900000000000006" stroke-width="1.0"/>
<line x1="249.4" y1="39.2" x2="249.4" y2="41.900000000000006" stroke-width="1.0"/>
<line x1="253.0" y1="39.2" x2="253.0" y2="41.900000000000006" stroke-width="1.0"/>
<line x1="257.4" y1="39.2" x2="257.4" y2="41.900000000000006" stroke-width="1.0"/>
<line x1="262.6" y1="39.2" x2="262.6" y2="41.900000000000006" stroke-width="1.0"/>
<line x1="269.0" y1="39.2" x2="269.0" y2="41.900000000000006" stroke-width="1.0"/>
<line x1="277.0" y1="39.2" x2="277.0" y2="41.900000000000006" stroke-width="1.0"/>
<line x1="286.0" y1="39.2" x2="286.0" y2="41.900000000000006" stroke-width="1.0"/>
<line x1="292.6" y1="39.2" x2="292.6" y2="41.900000000000006" stroke-width="1.0"/>
<rect x="58.4" y="39.2" width="290.95" height="171.20" fill="none" stroke-width="1.2"/>
<line x1="65.50" y1="485.0" x2="65.50" y2="477.6" stroke-width="1.25"/>
<line x1="79.05" y1="485.0" x2="79.05" y2="482.3" stroke-width="1.0"/>
<line x1="92.60" y1="485.0" x2="92.60" y2="482.3" stroke-width="1.0"/>
<line x1="106.15" y1="485.0" x2="106.15" y2="482.3" stroke-width="1.0"/>
<line x1="119.70" y1="485.0" x2="119.70" y2="482.3" stroke-width="1.0"/>
<line x1="133.25" y1="485.0" x2="133.25" y2="477.6" stroke-width="1.25"/>
<line x1="146.80" y1="485.0" x2="146.80" y2="482.3" stroke-width="1.0"/>
<line x1="160.35" y1="485.0" x2="160.35" y2="482.3" stroke-width="1.0"/>
<line x1="173.90" y1="485.0" x2="173.90" y2="482.3" stroke-width="1.0"/>
<line x1="187.45" y1="485.0" x2="187.45" y2="482.3" stroke-width="1.0"/>
<line x1="201.00" y1="485.0" x2="201.00" y2="477.6" stroke-width="1.25"/>
<line x1="214.55" y1="485.0" x2="214.55" y2="482.3" stroke-width="1.0"/>
<line x1="228.10" y1="485.0" x2="228.10" y2="482.3" stroke-width="1.0"/>
<line x1="241.65" y1="485.0" x2="241.65" y2="482.3" stroke-width="1.0"/>
<line x1="255.20" y1="485.0" x2="255.20" y2="482.3" stroke-width="1.0"/>
<line x1="268.75" y1="485.0" x2="268.75" y2="477.6" stroke-width="1.25"/>
<line x1="282.30" y1="485.0" x2="282.30" y2="482.3" stroke-width="1.0"/>
<line x1="295.85" y1="485.0" x2="295.85" y2="482.3" stroke-width="1.0"/>
<line x1="309.40" y1="485.0" x2="309.40" y2="482.3" stroke-width="1.0"/>
<line x1="322.95" y1="485.0" x2="322.95" y2="482.3" stroke-width="1.0"/>
<line x1="336.50" y1="485.0" x2="336.50" y2="477.6" stroke-width="1.25"/>
<line x1="58.4" y1="485.10" x2="65.8" y2="485.10" stroke-width="1.25"/>
<line x1="58.4" y1="427.97" x2="65.8" y2="427.97" stroke-width="1.25"/>
<line x1="58.4" y1="370.84" x2="65.8" y2="370.84" stroke-width="1.25"/>
<line x1="58.4" y1="313.71" x2="65.8" y2="313.71" stroke-width="1.25"/>
<line x1="58.4" y1="473.67" x2="61.1" y2="473.67" stroke-width="1.0"/>
<line x1="58.4" y1="462.25" x2="61.1" y2="462.25" stroke-width="1.0"/>
<line x1="58.4" y1="450.82" x2="61.1" y2="450.82" stroke-width="1.0"/>
<line x1="58.4" y1="439.40" x2="61.1" y2="439.40" stroke-width="1.0"/>
<line x1="58.4" y1="416.54" x2="61.1" y2="416.54" stroke-width="1.0"/>
<line x1="58.4" y1="405.12" x2="61.1" y2="405.12" stroke-width="1.0"/>
<line x1="58.4" y1="393.69" x2="61.1" y2="393.69" stroke-width="1.0"/>
<line x1="58.4" y1="382.27" x2="61.1" y2="382.27" stroke-width="1.0"/>
<line x1="58.4" y1="359.41" x2="61.1" y2="359.41" stroke-width="1.0"/>
<line x1="58.4" y1="347.99" x2="61.1" y2="347.99" stroke-width="1.0"/>
<line x1="58.4" y1="336.56" x2="61.1" y2="336.56" stroke-width="1.0"/>
<line x1="58.4" y1="325.14" x2="61.1" y2="325.14" stroke-width="1.0"/>
<line x1="127.0" y1="313.8" x2="127.0" y2="321.2" stroke-width="1.25"/>
<line x1="245.6" y1="313.8" x2="245.6" y2="321.2" stroke-width="1.25"/>
<line x1="304.8" y1="313.8" x2="304.8" y2="321.2" stroke-width="1.25"/>
<line x1="324.0" y1="313.8" x2="324.0" y2="321.2" stroke-width="1.25"/>
<line x1="330.7" y1="313.8" x2="330.7" y2="321.2" stroke-width="1.25"/>
<line x1="88.6" y1="313.8" x2="88.6" y2="316.5" stroke-width="1.0"/>
<line x1="134.2" y1="313.8" x2="134.2" y2="316.5" stroke-width="1.0"/>
<line x1="142.0" y1="313.8" x2="142.0" y2="316.5" stroke-width="1.0"/>
<line x1="151.0" y1="313.8" x2="151.0" y2="316.5" stroke-width="1.0"/>
<line x1="161.0" y1="313.8" x2="161.0" y2="316.5" stroke-width="1.0"/>
<line x1="172.2" y1="313.8" x2="172.2" y2="316.5" stroke-width="1.0"/>
<line x1="184.3" y1="313.8" x2="184.3" y2="316.5" stroke-width="1.0"/>
<line x1="198.0" y1="313.8" x2="198.0" y2="316.5" stroke-width="1.0"/>
<line x1="214.6" y1="313.8" x2="214.6" y2="316.5" stroke-width="1.0"/>
<line x1="249.4" y1="313.8" x2="249.4" y2="316.5" stroke-width="1.0"/>
<line x1="253.0" y1="313.8" x2="253.0" y2="316.5" stroke-width="1.0"/>
<line x1="257.4" y1="313.8" x2="257.4" y2="316.5" stroke-width="1.0"/>
<line x1="262.6" y1="313.8" x2="262.6" y2="316.5" stroke-width="1.0"/>
<line x1="269.0" y1="313.8" x2="269.0" y2="316.5" stroke-width="1.0"/>
<line x1="277.0" y1="313.8" x2="277.0" y2="316.5" stroke-width="1.0"/>
<line x1="286.0" y1="313.8" x2="286.0" y2="316.5" stroke-width="1.0"/>
<line x1="292.6" y1="313.8" x2="292.6" y2="316.5" stroke-width="1.0"/>
<rect x="58.4" y="313.8" width="290.95" height="171.20" fill="none" stroke-width="1.2"/>
</g>
<g font-family='"Liberation Serif", serif' fill="#000" stroke="#fff" stroke-width="0.18" opacity="0.999" style="font-kerning:none">
<text x="176.51" y="14.05" font-size="16.9" font-style="italic" textLength="12.77" lengthAdjust="spacingAndGlyphs">P</text>
<text x="195.06" y="14.00" font-size="20.0" textLength="5.64" lengthAdjust="spacingAndGlyphs">(</text>
<text x="201.50" y="13.95" font-size="15.8" textLength="23.06" lengthAdjust="spacingAndGlyphs">bar</text>
<text x="226.05" y="14.00" font-size="20.0" textLength="5.64" lengthAdjust="spacingAndGlyphs">)</text>
<text x="116.92" y="28.80" font-size="16.6" textLength="14.59" lengthAdjust="spacingAndGlyphs">10</text>
<text x="131.19" y="22.75" font-size="13.2" textLength="6.11" lengthAdjust="spacingAndGlyphs">7</text>
<text x="235.36" y="28.80" font-size="16.6" textLength="14.13" lengthAdjust="spacingAndGlyphs">10</text>
<text x="249.50" y="22.75" font-size="13.2" textLength="5.79" lengthAdjust="spacingAndGlyphs">6</text>
<text x="294.96" y="28.80" font-size="16.6" textLength="14.13" lengthAdjust="spacingAndGlyphs">10</text>
<text x="308.83" y="22.75" font-size="13.2" textLength="6.64" lengthAdjust="spacingAndGlyphs">5</text>
<text x="51.81" y="229.60" font-size="16.4" textLength="26.98" lengthAdjust="spacingAndGlyphs">0.00</text>
<text x="119.57" y="229.60" font-size="16.4" textLength="26.98" lengthAdjust="spacingAndGlyphs">0.25</text>
<text x="187.31" y="229.60" font-size="16.4" textLength="26.98" lengthAdjust="spacingAndGlyphs">0.50</text>
<text x="255.07" y="229.60" font-size="16.4" textLength="26.98" lengthAdjust="spacingAndGlyphs">0.75</text>
<text x="322.43" y="229.60" font-size="16.4" textLength="26.98" lengthAdjust="spacingAndGlyphs">1.00</text>
<text x="185.09" y="246.35" font-size="16" font-style="italic" textLength="6.86" lengthAdjust="spacingAndGlyphs">r</text>
<text x="193.30" y="251.70" font-size="26" textLength="6.00" lengthAdjust="spacingAndGlyphs">/</text>
<text x="202.31" y="246.35" font-size="15.2" font-style="italic" textLength="12.89" lengthAdjust="spacingAndGlyphs">R</text>
<text x="214.16" y="250.55" font-size="12" textLength="7.81" lengthAdjust="spacingAndGlyphs">S</text>
<text x="176.51" y="288.65" font-size="16.9" font-style="italic" textLength="12.77" lengthAdjust="spacingAndGlyphs">P</text>
<text x="195.06" y="288.60" font-size="20.0" textLength="5.64" lengthAdjust="spacingAndGlyphs">(</text>
<text x="201.50" y="288.55" font-size="15.8" textLength="23.06" lengthAdjust="spacingAndGlyphs">bar</text>
<text x="226.05" y="288.60" font-size="20.0" textLength="5.64" lengthAdjust="spacingAndGlyphs">)</text>
<text x="116.92" y="303.40" font-size="16.6" textLength="14.59" lengthAdjust="spacingAndGlyphs">10</text>
<text x="131.19" y="297.35" font-size="13.2" textLength="6.11" lengthAdjust="spacingAndGlyphs">7</text>
<text x="235.36" y="303.40" font-size="16.6" textLength="14.13" lengthAdjust="spacingAndGlyphs">10</text>
<text x="249.50" y="297.35" font-size="13.2" textLength="5.79" lengthAdjust="spacingAndGlyphs">6</text>
<text x="294.96" y="303.40" font-size="16.6" textLength="14.13" lengthAdjust="spacingAndGlyphs">10</text>
<text x="308.83" y="297.35" font-size="13.2" textLength="6.64" lengthAdjust="spacingAndGlyphs">5</text>
<text x="51.81" y="504.20" font-size="16.4" textLength="26.98" lengthAdjust="spacingAndGlyphs">0.00</text>
<text x="119.57" y="504.20" font-size="16.4" textLength="26.98" lengthAdjust="spacingAndGlyphs">0.25</text>
<text x="187.31" y="504.20" font-size="16.4" textLength="26.98" lengthAdjust="spacingAndGlyphs">0.50</text>
<text x="255.07" y="504.20" font-size="16.4" textLength="26.98" lengthAdjust="spacingAndGlyphs">0.75</text>
<text x="322.43" y="504.20" font-size="16.4" textLength="26.98" lengthAdjust="spacingAndGlyphs">1.00</text>
<text x="185.09" y="520.95" font-size="16" font-style="italic" textLength="6.86" lengthAdjust="spacingAndGlyphs">r</text>
<text x="193.30" y="526.30" font-size="26" textLength="6.00" lengthAdjust="spacingAndGlyphs">/</text>
<text x="202.31" y="520.95" font-size="15.2" font-style="italic" textLength="12.89" lengthAdjust="spacingAndGlyphs">R</text>
<text x="214.16" y="525.15" font-size="12" textLength="7.81" lengthAdjust="spacingAndGlyphs">S</text>
<text x="32.33" y="58.40" font-size="16.6" textLength="15.56" lengthAdjust="spacingAndGlyphs">10</text>
<text x="47.50" y="52.30" font-size="13.2" textLength="5.11" lengthAdjust="spacingAndGlyphs">1</text>
<text x="32.20" y="137.70" font-size="16.6" textLength="15.90" lengthAdjust="spacingAndGlyphs">10</text>
<text x="47.12" y="131.60" font-size="13.2" textLength="6.25" lengthAdjust="spacingAndGlyphs">0</text>
<text x="23.25" y="217.20" font-size="16.6" textLength="15.33" lengthAdjust="spacingAndGlyphs">10</text>
<text x="38.13" y="211.60" font-size="13.2" textLength="8.73" lengthAdjust="spacingAndGlyphs">&#8722;</text>
<text x="46.90" y="211.20" font-size="13.2" textLength="5.11" lengthAdjust="spacingAndGlyphs">1</text>
<g transform="translate(15.4,164.75) rotate(-90)"><text x="0.26" y="-0.80" font-size="16.8" font-style="italic" textLength="8.69" lengthAdjust="spacingAndGlyphs">ρ</text><text x="15.03" y="-0.42" font-size="21.7" textLength="5.06" lengthAdjust="spacingAndGlyphs">(</text><text x="20.77" y="-0.80" font-size="17.5" textLength="8.45" lengthAdjust="spacingAndGlyphs">g</text><text x="34.87" y="-0.80" font-size="17.0" textLength="20.29" lengthAdjust="spacingAndGlyphs">cm</text><text x="56.07" y="-7.10" font-size="13.2" textLength="9.39" lengthAdjust="spacingAndGlyphs">&#8722;</text><text x="65.39" y="-7.10" font-size="13.2" textLength="6.42" lengthAdjust="spacingAndGlyphs">3</text><text x="72.23" y="-0.42" font-size="21.7" textLength="6.87" lengthAdjust="spacingAndGlyphs">)</text></g>
<text x="37.68" y="320.20" font-size="16.6" textLength="15.10" lengthAdjust="spacingAndGlyphs">30</text>
<text x="37.76" y="377.40" font-size="16.6" textLength="14.60" lengthAdjust="spacingAndGlyphs">20</text>
<text x="37.50" y="434.30" font-size="16.6" textLength="14.76" lengthAdjust="spacingAndGlyphs">10</text>
<text x="45.21" y="491.20" font-size="16.6" textLength="7.79" lengthAdjust="spacingAndGlyphs">0</text>
<g transform="translate(29.2,440.65) rotate(-90)"><text x="-1.09" y="-0.80" font-size="18.5" font-style="italic" textLength="8.49" lengthAdjust="spacingAndGlyphs">c</text><text x="7.74" y="1.80" font-size="12.5" font-style="italic" textLength="5.16" lengthAdjust="spacingAndGlyphs">s</text><text x="19.08" y="0.03" font-size="21.0" textLength="5.45" lengthAdjust="spacingAndGlyphs">(</text><text x="24.77" y="-0.80" font-size="17.6" textLength="22.20" lengthAdjust="spacingAndGlyphs">km</text><text x="51.14" y="-0.80" font-size="17.6" textLength="7.23" lengthAdjust="spacingAndGlyphs">s</text><text x="59.73" y="-7.30" font-size="13.2" textLength="8.73" lengthAdjust="spacingAndGlyphs">&#8722;</text><text x="69.15" y="-7.30" font-size="13.2" textLength="5.40" lengthAdjust="spacingAndGlyphs">1</text><text x="75.29" y="0.03" font-size="21.0" textLength="6.35" lengthAdjust="spacingAndGlyphs">)</text></g>
</g>
</svg>
</body></html>
